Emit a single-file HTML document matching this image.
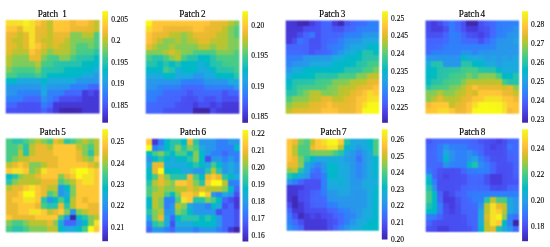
<!DOCTYPE html>
<html><head><meta charset="utf-8"><title>Patches</title>
<style>
html,body{margin:0;padding:0;background:#fff;}
body{width:550px;height:247px;overflow:hidden;}
svg{display:block;}
text{font-family:"Liberation Serif",serif;fill:#000;stroke:#000;stroke-width:0.2px;}
.t{font-size:9.5px;text-anchor:middle;stroke-width:0.15px;}
.l{font-size:7.5px;stroke-width:0.1px;}
</style></head><body>
<svg width="550" height="247" viewBox="0 0 550 247">
<defs><linearGradient id="pg" x1="0" y1="1" x2="0" y2="0">
<stop offset="0.0000" stop-color="#3e26a8"/><stop offset="0.0476" stop-color="#4332cb"/><stop offset="0.0952" stop-color="#4741e5"/><stop offset="0.1429" stop-color="#4852f4"/><stop offset="0.1905" stop-color="#4563fd"/><stop offset="0.2381" stop-color="#3875fe"/><stop offset="0.2857" stop-color="#2e87f7"/><stop offset="0.3333" stop-color="#2797eb"/><stop offset="0.3810" stop-color="#20a5e3"/><stop offset="0.4286" stop-color="#12b1d6"/><stop offset="0.4762" stop-color="#02bac3"/><stop offset="0.5238" stop-color="#24c1ae"/><stop offset="0.5714" stop-color="#37c897"/><stop offset="0.6190" stop-color="#57cc7a"/><stop offset="0.6667" stop-color="#81cc59"/><stop offset="0.7143" stop-color="#abc739"/><stop offset="0.7619" stop-color="#d1bf27"/><stop offset="0.8095" stop-color="#f0ba36"/><stop offset="0.8571" stop-color="#fec338"/><stop offset="0.9048" stop-color="#fad62d"/><stop offset="0.9524" stop-color="#f5e924"/><stop offset="1.0000" stop-color="#f9fb15"/></linearGradient>
<filter id="bl" x="-5%" y="-5%" width="110%" height="110%" color-interpolation-filters="sRGB"><feConvolveMatrix order="3" kernelMatrix="1 2 1 2 4 2 1 2 1" divisor="16" edgeMode="duplicate" preserveAlpha="false"/></filter>
<clipPath id="cp1"><rect x="5.70" y="20.10" width="93.90" height="93.40"/></clipPath>
<clipPath id="cp2"><rect x="145.70" y="20.40" width="93.70" height="93.30"/></clipPath>
<clipPath id="cp3"><rect x="285.70" y="20.50" width="93.40" height="93.30"/></clipPath>
<clipPath id="cp4"><rect x="425.50" y="20.50" width="93.60" height="93.20"/></clipPath>
<clipPath id="cp5"><rect x="5.80" y="138.40" width="93.60" height="93.80"/></clipPath>
<clipPath id="cp6"><rect x="146.10" y="138.80" width="93.80" height="93.90"/></clipPath>
<clipPath id="cp7"><rect x="286.60" y="138.80" width="92.20" height="91.90"/></clipPath>
<clipPath id="cp8"><rect x="425.70" y="138.60" width="93.30" height="93.40"/></clipPath>
</defs>
<g filter="url(#bl)"><g clip-path="url(#cp1)" shape-rendering="crispEdges">
<rect x="5" y="20" width="7" height="6" fill="#f6de29"/><rect x="12" y="20" width="5" height="6" fill="#f6df29"/><rect x="17" y="20" width="6" height="6" fill="#f5e227"/><rect x="23" y="20" width="6" height="6" fill="#f6f21e"/><rect x="29" y="20" width="6" height="6" fill="#f5e128"/><rect x="35" y="20" width="6" height="6" fill="#fec537"/><rect x="41" y="20" width="6" height="6" fill="#e9bb2f"/><rect x="47" y="20" width="6" height="6" fill="#c2c22c"/><rect x="53" y="20" width="6" height="6" fill="#fec736"/><rect x="59" y="20" width="5" height="6" fill="#fec735"/><rect x="64" y="20" width="6" height="6" fill="#fec537"/><rect x="70" y="20" width="6" height="6" fill="#f0ba36"/><rect x="76" y="20" width="6" height="6" fill="#fec13a"/><rect x="82" y="20" width="6" height="6" fill="#fec13a"/><rect x="88" y="20" width="6" height="6" fill="#e9bb2f"/><rect x="94" y="20" width="6" height="6" fill="#c2c22c"/>
<rect x="5" y="26" width="7" height="6" fill="#fec735"/><rect x="12" y="26" width="5" height="6" fill="#fec636"/><rect x="17" y="26" width="6" height="6" fill="#eaba31"/><rect x="23" y="26" width="6" height="6" fill="#f5e327"/><rect x="29" y="26" width="6" height="6" fill="#f5e128"/><rect x="35" y="26" width="6" height="6" fill="#ecba32"/><rect x="41" y="26" width="6" height="6" fill="#e7bb2e"/><rect x="47" y="26" width="6" height="6" fill="#c4c22b"/><rect x="53" y="26" width="6" height="6" fill="#fec537"/><rect x="59" y="26" width="5" height="6" fill="#fec537"/><rect x="64" y="26" width="6" height="6" fill="#fec338"/><rect x="70" y="26" width="6" height="6" fill="#eeba34"/><rect x="76" y="26" width="6" height="6" fill="#ecba32"/><rect x="82" y="26" width="6" height="6" fill="#eaba31"/><rect x="88" y="26" width="6" height="6" fill="#e4bb2c"/><rect x="94" y="26" width="6" height="6" fill="#c1c32c"/>
<rect x="5" y="32" width="7" height="6" fill="#ecba33"/><rect x="12" y="32" width="5" height="6" fill="#e8bb2f"/><rect x="17" y="32" width="6" height="6" fill="#c7c12a"/><rect x="23" y="32" width="6" height="6" fill="#e6bb2d"/><rect x="29" y="32" width="6" height="6" fill="#f5e128"/><rect x="35" y="32" width="6" height="6" fill="#e9bb30"/><rect x="41" y="32" width="6" height="6" fill="#e4bb2c"/><rect x="47" y="32" width="6" height="6" fill="#c4c22b"/><rect x="53" y="32" width="6" height="6" fill="#e9bb30"/><rect x="59" y="32" width="5" height="6" fill="#edba33"/><rect x="64" y="32" width="6" height="6" fill="#ebba32"/><rect x="70" y="32" width="6" height="6" fill="#83cc57"/><rect x="76" y="32" width="6" height="6" fill="#84cc56"/><rect x="82" y="32" width="6" height="6" fill="#b8c431"/><rect x="88" y="32" width="6" height="6" fill="#bbc42f"/><rect x="94" y="32" width="6" height="6" fill="#4bcb84"/>
<rect x="5" y="38" width="7" height="5" fill="#e8bb2f"/><rect x="12" y="38" width="5" height="5" fill="#c6c12a"/><rect x="17" y="38" width="6" height="5" fill="#c3c22b"/><rect x="23" y="38" width="6" height="5" fill="#e5bb2d"/><rect x="29" y="38" width="6" height="5" fill="#f6e028"/><rect x="35" y="38" width="6" height="5" fill="#eaba31"/><rect x="41" y="38" width="6" height="5" fill="#c5c22a"/><rect x="47" y="38" width="6" height="5" fill="#c3c22b"/><rect x="53" y="38" width="6" height="5" fill="#e5bb2d"/><rect x="59" y="38" width="5" height="5" fill="#e6bb2d"/><rect x="64" y="38" width="6" height="5" fill="#bcc42f"/><rect x="70" y="38" width="6" height="5" fill="#83cc57"/><rect x="76" y="38" width="6" height="5" fill="#7ecc5b"/><rect x="82" y="38" width="6" height="5" fill="#81cc59"/><rect x="88" y="38" width="6" height="5" fill="#7dcc5c"/><rect x="94" y="38" width="6" height="5" fill="#4dcc82"/>
<rect x="5" y="43" width="7" height="6" fill="#e8bb2e"/><rect x="12" y="43" width="5" height="6" fill="#e1bc2b"/><rect x="17" y="43" width="6" height="6" fill="#c1c32c"/><rect x="23" y="43" width="6" height="6" fill="#e3bc2c"/><rect x="29" y="43" width="6" height="6" fill="#f7dd2a"/><rect x="35" y="43" width="6" height="6" fill="#fec437"/><rect x="41" y="43" width="6" height="6" fill="#e3bb2c"/><rect x="47" y="43" width="6" height="6" fill="#bfc32d"/><rect x="53" y="43" width="6" height="6" fill="#e0bc2a"/><rect x="59" y="43" width="5" height="6" fill="#c1c32c"/><rect x="64" y="43" width="6" height="6" fill="#b8c431"/><rect x="70" y="43" width="6" height="6" fill="#82cc57"/><rect x="76" y="43" width="6" height="6" fill="#51cc7f"/><rect x="82" y="43" width="6" height="6" fill="#4fcc80"/><rect x="88" y="43" width="6" height="6" fill="#71cd64"/><rect x="94" y="43" width="6" height="6" fill="#4acb85"/>
<rect x="5" y="49" width="7" height="6" fill="#e5bb2c"/><rect x="12" y="49" width="5" height="6" fill="#bec32e"/><rect x="17" y="49" width="6" height="6" fill="#b9c431"/><rect x="23" y="49" width="6" height="6" fill="#bbc42f"/><rect x="29" y="49" width="6" height="6" fill="#fec339"/><rect x="35" y="49" width="6" height="6" fill="#ecba32"/><rect x="41" y="49" width="6" height="6" fill="#bec32e"/><rect x="47" y="49" width="6" height="6" fill="#87cb54"/><rect x="53" y="49" width="6" height="6" fill="#b9c430"/><rect x="59" y="49" width="5" height="6" fill="#b9c431"/><rect x="64" y="49" width="6" height="6" fill="#b2c534"/><rect x="70" y="49" width="6" height="6" fill="#7dcc5b"/><rect x="76" y="49" width="6" height="6" fill="#48cb86"/><rect x="82" y="49" width="6" height="6" fill="#45cb89"/><rect x="88" y="49" width="6" height="6" fill="#44cb8a"/><rect x="94" y="49" width="6" height="6" fill="#2bc3a7"/>
<rect x="5" y="55" width="7" height="6" fill="#b9c430"/><rect x="12" y="55" width="5" height="6" fill="#8acb51"/><rect x="17" y="55" width="6" height="6" fill="#86cb55"/><rect x="23" y="55" width="6" height="6" fill="#85cb55"/><rect x="29" y="55" width="6" height="6" fill="#e9bb30"/><rect x="35" y="55" width="6" height="6" fill="#e8bb2e"/><rect x="41" y="55" width="6" height="6" fill="#7ccc5c"/><rect x="47" y="55" width="6" height="6" fill="#4bcb83"/><rect x="53" y="55" width="6" height="6" fill="#48cb86"/><rect x="59" y="55" width="5" height="6" fill="#86cb55"/><rect x="64" y="55" width="6" height="6" fill="#83cc57"/><rect x="70" y="55" width="6" height="6" fill="#44cb8a"/><rect x="76" y="55" width="6" height="6" fill="#2cc4a7"/><rect x="82" y="55" width="6" height="6" fill="#2ac3a9"/><rect x="88" y="55" width="6" height="6" fill="#26c2ad"/><rect x="94" y="55" width="6" height="6" fill="#02bac4"/>
<rect x="5" y="61" width="7" height="6" fill="#b0c636"/><rect x="12" y="61" width="5" height="6" fill="#81cc59"/><rect x="17" y="61" width="6" height="6" fill="#7bcc5d"/><rect x="23" y="61" width="6" height="6" fill="#7bcc5d"/><rect x="29" y="61" width="6" height="6" fill="#7fcc5a"/><rect x="35" y="61" width="6" height="6" fill="#b6c532"/><rect x="41" y="61" width="6" height="6" fill="#48cb86"/><rect x="47" y="61" width="6" height="6" fill="#42ca8b"/><rect x="53" y="61" width="6" height="6" fill="#2cc4a6"/><rect x="59" y="61" width="5" height="6" fill="#29c3aa"/><rect x="64" y="61" width="6" height="6" fill="#27c2ac"/><rect x="70" y="61" width="6" height="6" fill="#27c2ac"/><rect x="76" y="61" width="6" height="6" fill="#25c2ae"/><rect x="82" y="61" width="6" height="6" fill="#02bac3"/><rect x="88" y="61" width="6" height="6" fill="#01b9c6"/><rect x="94" y="61" width="6" height="6" fill="#01b9c8"/>
<rect x="5" y="67" width="7" height="6" fill="#79cc5f"/><rect x="12" y="67" width="5" height="6" fill="#4dcc82"/><rect x="17" y="67" width="6" height="6" fill="#49cb85"/><rect x="23" y="67" width="6" height="6" fill="#48cb86"/><rect x="29" y="67" width="6" height="6" fill="#4bcb84"/><rect x="35" y="67" width="6" height="6" fill="#78cc5f"/><rect x="41" y="67" width="6" height="6" fill="#2cc4a7"/><rect x="47" y="67" width="6" height="6" fill="#29c3aa"/><rect x="53" y="67" width="6" height="6" fill="#26c2ac"/><rect x="59" y="67" width="5" height="6" fill="#24c1ae"/><rect x="64" y="67" width="6" height="6" fill="#02bac3"/><rect x="70" y="67" width="6" height="6" fill="#02bac5"/><rect x="76" y="67" width="6" height="6" fill="#01b9c6"/><rect x="82" y="67" width="6" height="6" fill="#01b8c8"/><rect x="88" y="67" width="6" height="6" fill="#02b7cb"/><rect x="94" y="67" width="6" height="6" fill="#19acdc"/>
<rect x="5" y="73" width="7" height="5" fill="#4bcb83"/><rect x="12" y="73" width="5" height="5" fill="#47cb87"/><rect x="17" y="73" width="6" height="5" fill="#2ec4a4"/><rect x="23" y="73" width="6" height="5" fill="#2dc4a6"/><rect x="29" y="73" width="6" height="5" fill="#2ec5a4"/><rect x="35" y="73" width="6" height="5" fill="#42ca8b"/><rect x="41" y="73" width="6" height="5" fill="#27c2ac"/><rect x="47" y="73" width="6" height="5" fill="#02bac5"/><rect x="53" y="73" width="6" height="5" fill="#01b9c7"/><rect x="59" y="73" width="5" height="5" fill="#01b8c8"/><rect x="64" y="73" width="6" height="5" fill="#01b8c9"/><rect x="70" y="73" width="6" height="5" fill="#01b8c9"/><rect x="76" y="73" width="6" height="5" fill="#01b8c9"/><rect x="82" y="73" width="6" height="5" fill="#1aabde"/><rect x="88" y="73" width="6" height="5" fill="#1da8e0"/><rect x="94" y="73" width="6" height="5" fill="#2699e9"/>
<rect x="5" y="78" width="7" height="6" fill="#01b9c7"/><rect x="12" y="78" width="5" height="6" fill="#01b8c8"/><rect x="17" y="78" width="6" height="6" fill="#1da9e0"/><rect x="23" y="78" width="6" height="6" fill="#1ea8e0"/><rect x="29" y="78" width="6" height="6" fill="#1ea8e0"/><rect x="35" y="78" width="6" height="6" fill="#1ca9df"/><rect x="41" y="78" width="6" height="6" fill="#03b7cb"/><rect x="47" y="78" width="6" height="6" fill="#1babde"/><rect x="53" y="78" width="6" height="6" fill="#1caadf"/><rect x="59" y="78" width="5" height="6" fill="#1caadf"/><rect x="64" y="78" width="6" height="6" fill="#1babde"/><rect x="70" y="78" width="6" height="6" fill="#1babde"/><rect x="76" y="78" width="6" height="6" fill="#2896ec"/><rect x="82" y="78" width="6" height="6" fill="#2797eb"/><rect x="88" y="78" width="6" height="6" fill="#2797ea"/><rect x="94" y="78" width="6" height="6" fill="#2797eb"/>
<rect x="5" y="84" width="7" height="6" fill="#2797eb"/><rect x="12" y="84" width="5" height="6" fill="#2797eb"/><rect x="17" y="84" width="6" height="6" fill="#2797eb"/><rect x="23" y="84" width="6" height="6" fill="#2797eb"/><rect x="29" y="84" width="6" height="6" fill="#2797eb"/><rect x="35" y="84" width="6" height="6" fill="#2699e9"/><rect x="41" y="84" width="6" height="6" fill="#1da9e0"/><rect x="47" y="84" width="6" height="6" fill="#2699e9"/><rect x="53" y="84" width="6" height="6" fill="#2797eb"/><rect x="59" y="84" width="5" height="6" fill="#2797eb"/><rect x="64" y="84" width="6" height="6" fill="#2797ea"/><rect x="70" y="84" width="6" height="6" fill="#307ffb"/><rect x="76" y="84" width="6" height="6" fill="#2f80fa"/><rect x="82" y="84" width="6" height="6" fill="#2f81fa"/><rect x="88" y="84" width="6" height="6" fill="#4367fd"/><rect x="94" y="84" width="6" height="6" fill="#4465fd"/>
<rect x="5" y="90" width="7" height="6" fill="#2995ec"/><rect x="12" y="90" width="5" height="6" fill="#2993ed"/><rect x="17" y="90" width="6" height="6" fill="#2e83f9"/><rect x="23" y="90" width="6" height="6" fill="#2f81fa"/><rect x="29" y="90" width="6" height="6" fill="#2f80fa"/><rect x="35" y="90" width="6" height="6" fill="#2f81fa"/><rect x="41" y="90" width="6" height="6" fill="#1ea7e1"/><rect x="47" y="90" width="6" height="6" fill="#2f82f9"/><rect x="53" y="90" width="6" height="6" fill="#2f82fa"/><rect x="59" y="90" width="5" height="6" fill="#2f81fa"/><rect x="64" y="90" width="6" height="6" fill="#4466fd"/><rect x="70" y="90" width="6" height="6" fill="#4466fd"/><rect x="76" y="90" width="6" height="6" fill="#4368fd"/><rect x="82" y="90" width="6" height="6" fill="#463adb"/><rect x="88" y="90" width="6" height="6" fill="#484aee"/><rect x="94" y="90" width="6" height="6" fill="#4639da"/>
<rect x="5" y="96" width="7" height="6" fill="#2f80fa"/><rect x="12" y="96" width="5" height="6" fill="#2f80fa"/><rect x="17" y="96" width="6" height="6" fill="#307ffb"/><rect x="23" y="96" width="6" height="6" fill="#4368fe"/><rect x="29" y="96" width="6" height="6" fill="#4367fd"/><rect x="35" y="96" width="6" height="6" fill="#4368fe"/><rect x="41" y="96" width="6" height="6" fill="#2b92ee"/><rect x="47" y="96" width="6" height="6" fill="#307ffb"/><rect x="53" y="96" width="6" height="6" fill="#416bfe"/><rect x="59" y="96" width="5" height="6" fill="#484ef1"/><rect x="64" y="96" width="6" height="6" fill="#484ef1"/><rect x="70" y="96" width="6" height="6" fill="#484ff2"/><rect x="76" y="96" width="6" height="6" fill="#484cef"/><rect x="82" y="96" width="6" height="6" fill="#4639d9"/><rect x="88" y="96" width="6" height="6" fill="#4538d8"/><rect x="94" y="96" width="6" height="6" fill="#4538d8"/>
<rect x="5" y="102" width="7" height="6" fill="#4367fd"/><rect x="12" y="102" width="5" height="6" fill="#4465fd"/><rect x="17" y="102" width="6" height="6" fill="#4851f3"/><rect x="23" y="102" width="6" height="6" fill="#4850f3"/><rect x="29" y="102" width="6" height="6" fill="#4851f3"/><rect x="35" y="102" width="6" height="6" fill="#4852f4"/><rect x="41" y="102" width="6" height="6" fill="#317dfc"/><rect x="47" y="102" width="6" height="6" fill="#4368fe"/><rect x="53" y="102" width="6" height="6" fill="#4539d9"/><rect x="59" y="102" width="5" height="6" fill="#4538d7"/><rect x="64" y="102" width="6" height="6" fill="#4538d7"/><rect x="70" y="102" width="6" height="6" fill="#4538d7"/><rect x="76" y="102" width="6" height="6" fill="#4538d7"/><rect x="82" y="102" width="6" height="6" fill="#4538d7"/><rect x="88" y="102" width="6" height="6" fill="#4538d7"/><rect x="94" y="102" width="6" height="6" fill="#4538d7"/>
<rect x="5" y="108" width="7" height="6" fill="#4852f4"/><rect x="12" y="108" width="5" height="6" fill="#4851f3"/><rect x="17" y="108" width="6" height="6" fill="#4850f2"/><rect x="23" y="108" width="6" height="6" fill="#484ff2"/><rect x="29" y="108" width="6" height="6" fill="#484ff2"/><rect x="35" y="108" width="6" height="6" fill="#4850f3"/><rect x="41" y="108" width="6" height="6" fill="#4564fd"/><rect x="47" y="108" width="6" height="6" fill="#4850f2"/><rect x="53" y="108" width="6" height="6" fill="#4538d7"/><rect x="59" y="108" width="5" height="6" fill="#402ab4"/><rect x="64" y="108" width="6" height="6" fill="#3f28af"/><rect x="70" y="108" width="6" height="6" fill="#3f28af"/><rect x="76" y="108" width="6" height="6" fill="#402ab4"/><rect x="82" y="108" width="6" height="6" fill="#4537d5"/><rect x="88" y="108" width="6" height="6" fill="#4538d7"/><rect x="94" y="108" width="6" height="6" fill="#4538d7"/>
</g></g>
<rect x="102.30" y="11.10" width="5.70" height="111.60" fill="url(#pg)"/>
<text class="t" transform="translate(52.30,16.60) scale(0.97,1)" word-spacing="2.0">Patch 1</text>
<text class="l" x="111.2" y="21.9">0.205</text>
<text class="l" x="111.2" y="43.4">0.2</text>
<text class="l" x="111.2" y="64.8">0.195</text>
<text class="l" x="111.2" y="86.3">0.19</text>
<text class="l" x="111.2" y="107.8">0.185</text>
<g filter="url(#bl)"><g clip-path="url(#cp2)" shape-rendering="crispEdges">
<rect x="145" y="20" width="7" height="6" fill="#f8f718"/><rect x="152" y="20" width="5" height="6" fill="#fec835"/><rect x="157" y="20" width="6" height="6" fill="#fec636"/><rect x="163" y="20" width="6" height="6" fill="#fec537"/><rect x="169" y="20" width="6" height="6" fill="#fec438"/><rect x="175" y="20" width="6" height="6" fill="#fec438"/><rect x="181" y="20" width="6" height="6" fill="#fec438"/><rect x="187" y="20" width="6" height="6" fill="#fec537"/><rect x="193" y="20" width="5" height="6" fill="#fec636"/><rect x="198" y="20" width="6" height="6" fill="#fec636"/><rect x="204" y="20" width="6" height="6" fill="#fec339"/><rect x="210" y="20" width="6" height="6" fill="#ecba32"/><rect x="216" y="20" width="6" height="6" fill="#e9bb30"/><rect x="222" y="20" width="6" height="6" fill="#e5bb2c"/><rect x="228" y="20" width="6" height="6" fill="#b7c532"/><rect x="234" y="20" width="6" height="6" fill="#81cc59"/>
<rect x="145" y="26" width="7" height="6" fill="#f7dd2a"/><rect x="152" y="26" width="5" height="6" fill="#fec636"/><rect x="157" y="26" width="6" height="6" fill="#fec338"/><rect x="163" y="26" width="6" height="6" fill="#efba35"/><rect x="169" y="26" width="6" height="6" fill="#ebba32"/><rect x="175" y="26" width="6" height="6" fill="#ebba32"/><rect x="181" y="26" width="6" height="6" fill="#ecba32"/><rect x="187" y="26" width="6" height="6" fill="#efba35"/><rect x="193" y="26" width="5" height="6" fill="#fec438"/><rect x="198" y="26" width="6" height="6" fill="#fec338"/><rect x="204" y="26" width="6" height="6" fill="#eeba34"/><rect x="210" y="26" width="6" height="6" fill="#eaba31"/><rect x="216" y="26" width="6" height="6" fill="#e6bb2d"/><rect x="222" y="26" width="6" height="6" fill="#bec32e"/><rect x="228" y="26" width="6" height="6" fill="#84cb56"/><rect x="234" y="26" width="6" height="6" fill="#52cc7e"/>
<rect x="145" y="32" width="7" height="6" fill="#fec636"/><rect x="152" y="32" width="5" height="6" fill="#efba36"/><rect x="157" y="32" width="6" height="6" fill="#ebba31"/><rect x="163" y="32" width="6" height="6" fill="#e8bb2f"/><rect x="169" y="32" width="6" height="6" fill="#c0c32d"/><rect x="175" y="32" width="6" height="6" fill="#bbc42f"/><rect x="181" y="32" width="6" height="6" fill="#8fcb4e"/><rect x="187" y="32" width="6" height="6" fill="#bec32e"/><rect x="193" y="32" width="5" height="6" fill="#e8bb2f"/><rect x="198" y="32" width="6" height="6" fill="#ecba32"/><rect x="204" y="32" width="6" height="6" fill="#eaba31"/><rect x="210" y="32" width="6" height="6" fill="#e6bb2d"/><rect x="216" y="32" width="6" height="6" fill="#c1c32c"/><rect x="222" y="32" width="6" height="6" fill="#b8c431"/><rect x="228" y="32" width="6" height="6" fill="#82cc57"/><rect x="234" y="32" width="6" height="6" fill="#54cc7c"/>
<rect x="145" y="38" width="7" height="6" fill="#fec239"/><rect x="152" y="38" width="5" height="6" fill="#e9bb30"/><rect x="157" y="38" width="6" height="6" fill="#bdc32e"/><rect x="163" y="38" width="6" height="6" fill="#88cb53"/><rect x="169" y="38" width="6" height="6" fill="#8ccb50"/><rect x="175" y="38" width="6" height="6" fill="#afc636"/><rect x="181" y="38" width="6" height="6" fill="#89cb52"/><rect x="187" y="38" width="6" height="6" fill="#b2c635"/><rect x="193" y="38" width="5" height="6" fill="#bec32e"/><rect x="198" y="38" width="6" height="6" fill="#e5bb2d"/><rect x="204" y="38" width="6" height="6" fill="#e5bb2d"/><rect x="210" y="38" width="6" height="6" fill="#bfc32d"/><rect x="216" y="38" width="6" height="6" fill="#bbc42f"/><rect x="222" y="38" width="6" height="6" fill="#b7c532"/><rect x="228" y="38" width="6" height="6" fill="#85cb56"/><rect x="234" y="38" width="6" height="6" fill="#7ecc5b"/>
<rect x="145" y="44" width="7" height="6" fill="#eabb30"/><rect x="152" y="44" width="5" height="6" fill="#b7c532"/><rect x="157" y="44" width="6" height="6" fill="#88cb53"/><rect x="163" y="44" width="6" height="6" fill="#88cb53"/><rect x="169" y="44" width="6" height="6" fill="#b3c534"/><rect x="175" y="44" width="6" height="6" fill="#89cb52"/><rect x="181" y="44" width="6" height="6" fill="#85cb56"/><rect x="187" y="44" width="6" height="6" fill="#83cc57"/><rect x="193" y="44" width="5" height="6" fill="#84cb56"/><rect x="198" y="44" width="6" height="6" fill="#bdc32e"/><rect x="204" y="44" width="6" height="6" fill="#bdc32e"/><rect x="210" y="44" width="6" height="6" fill="#89cb52"/><rect x="216" y="44" width="6" height="6" fill="#b5c533"/><rect x="222" y="44" width="6" height="6" fill="#b1c635"/><rect x="228" y="44" width="6" height="6" fill="#83cc57"/><rect x="234" y="44" width="6" height="6" fill="#7ecc5b"/>
<rect x="145" y="50" width="7" height="5" fill="#7fcc5a"/><rect x="152" y="50" width="5" height="5" fill="#82cc58"/><rect x="157" y="50" width="6" height="5" fill="#84cc56"/><rect x="163" y="50" width="6" height="5" fill="#b2c635"/><rect x="169" y="50" width="6" height="5" fill="#dbbd29"/><rect x="175" y="50" width="6" height="5" fill="#b4c533"/><rect x="181" y="50" width="6" height="5" fill="#82cc58"/><rect x="187" y="50" width="6" height="5" fill="#7ccc5c"/><rect x="193" y="50" width="5" height="5" fill="#4bcb83"/><rect x="198" y="50" width="6" height="5" fill="#48cb86"/><rect x="204" y="50" width="6" height="5" fill="#48cb86"/><rect x="210" y="50" width="6" height="5" fill="#4bcb84"/><rect x="216" y="50" width="6" height="5" fill="#7dcc5b"/><rect x="222" y="50" width="6" height="5" fill="#7fcc5a"/><rect x="228" y="50" width="6" height="5" fill="#79cc5e"/><rect x="234" y="50" width="6" height="5" fill="#50cc7f"/>
<rect x="145" y="55" width="7" height="6" fill="#44ca8a"/><rect x="152" y="55" width="5" height="6" fill="#29c3a9"/><rect x="157" y="55" width="6" height="6" fill="#29c3aa"/><rect x="163" y="55" width="6" height="6" fill="#46cb88"/><rect x="169" y="55" width="6" height="6" fill="#88cb53"/><rect x="175" y="55" width="6" height="6" fill="#b7c532"/><rect x="181" y="55" width="6" height="6" fill="#48cb86"/><rect x="187" y="55" width="6" height="6" fill="#27c2ab"/><rect x="193" y="55" width="5" height="6" fill="#26c2ac"/><rect x="198" y="55" width="6" height="6" fill="#01b9c7"/><rect x="204" y="55" width="6" height="6" fill="#01bac6"/><rect x="210" y="55" width="6" height="6" fill="#2bc3a8"/><rect x="216" y="55" width="6" height="6" fill="#46cb88"/><rect x="222" y="55" width="6" height="6" fill="#4bcb83"/><rect x="228" y="55" width="6" height="6" fill="#4bcb84"/><rect x="234" y="55" width="6" height="6" fill="#49cb85"/>
<rect x="145" y="61" width="7" height="6" fill="#27c2ab"/><rect x="152" y="61" width="5" height="6" fill="#25c2ae"/><rect x="157" y="61" width="6" height="6" fill="#05bbc1"/><rect x="163" y="61" width="6" height="6" fill="#27c2ab"/><rect x="169" y="61" width="6" height="6" fill="#05bbc1"/><rect x="175" y="61" width="6" height="6" fill="#23c1af"/><rect x="181" y="61" width="6" height="6" fill="#01b9c6"/><rect x="187" y="61" width="6" height="6" fill="#01bac5"/><rect x="193" y="61" width="5" height="6" fill="#01b9c7"/><rect x="198" y="61" width="6" height="6" fill="#17aeda"/><rect x="204" y="61" width="6" height="6" fill="#01b8c9"/><rect x="210" y="61" width="6" height="6" fill="#25c2ad"/><rect x="216" y="61" width="6" height="6" fill="#2cc4a7"/><rect x="222" y="61" width="6" height="6" fill="#41ca8c"/><rect x="228" y="61" width="6" height="6" fill="#45cb89"/><rect x="234" y="61" width="6" height="6" fill="#47cb87"/>
<rect x="145" y="67" width="7" height="6" fill="#01b9c7"/><rect x="152" y="67" width="5" height="6" fill="#01b8c8"/><rect x="157" y="67" width="6" height="6" fill="#01b9c8"/><rect x="163" y="67" width="6" height="6" fill="#3dc990"/><rect x="169" y="67" width="6" height="6" fill="#25c2ad"/><rect x="175" y="67" width="6" height="6" fill="#18addb"/><rect x="181" y="67" width="6" height="6" fill="#02b7cb"/><rect x="187" y="67" width="6" height="6" fill="#01b8c9"/><rect x="193" y="67" width="5" height="6" fill="#02b7ca"/><rect x="198" y="67" width="6" height="6" fill="#1babde"/><rect x="204" y="67" width="6" height="6" fill="#1aabdd"/><rect x="210" y="67" width="6" height="6" fill="#01b9c7"/><rect x="216" y="67" width="6" height="6" fill="#25c2ad"/><rect x="222" y="67" width="6" height="6" fill="#28c2ab"/><rect x="228" y="67" width="6" height="6" fill="#2cc4a7"/><rect x="234" y="67" width="6" height="6" fill="#42ca8c"/>
<rect x="145" y="73" width="7" height="6" fill="#1caadf"/><rect x="152" y="73" width="5" height="6" fill="#1caadf"/><rect x="157" y="73" width="6" height="6" fill="#1baade"/><rect x="163" y="73" width="6" height="6" fill="#01b8c8"/><rect x="169" y="73" width="6" height="6" fill="#01b8c9"/><rect x="175" y="73" width="6" height="6" fill="#1caadf"/><rect x="181" y="73" width="6" height="6" fill="#1babde"/><rect x="187" y="73" width="6" height="6" fill="#1aabdd"/><rect x="193" y="73" width="5" height="6" fill="#2896ec"/><rect x="198" y="73" width="6" height="6" fill="#2798ea"/><rect x="204" y="73" width="6" height="6" fill="#1da8e0"/><rect x="210" y="73" width="6" height="6" fill="#1caadf"/><rect x="216" y="73" width="6" height="6" fill="#01b9c6"/><rect x="222" y="73" width="6" height="6" fill="#02bac5"/><rect x="228" y="73" width="6" height="6" fill="#01bac5"/><rect x="234" y="73" width="6" height="6" fill="#28c3aa"/>
<rect x="145" y="79" width="7" height="6" fill="#2798ea"/><rect x="152" y="79" width="5" height="6" fill="#2798ea"/><rect x="157" y="79" width="6" height="6" fill="#2797eb"/><rect x="163" y="79" width="6" height="6" fill="#2995ec"/><rect x="169" y="79" width="6" height="6" fill="#2995ec"/><rect x="175" y="79" width="6" height="6" fill="#2895ec"/><rect x="181" y="79" width="6" height="6" fill="#307ffb"/><rect x="187" y="79" width="6" height="6" fill="#317efb"/><rect x="193" y="79" width="5" height="6" fill="#307ffb"/><rect x="198" y="79" width="6" height="6" fill="#2f82fa"/><rect x="204" y="79" width="6" height="6" fill="#2895ec"/><rect x="210" y="79" width="6" height="6" fill="#2896ec"/><rect x="216" y="79" width="6" height="6" fill="#2995ec"/><rect x="222" y="79" width="6" height="6" fill="#2995ec"/><rect x="228" y="79" width="6" height="6" fill="#1caadf"/><rect x="234" y="79" width="6" height="6" fill="#1ca9df"/>
<rect x="145" y="85" width="7" height="5" fill="#2995ec"/><rect x="152" y="85" width="5" height="5" fill="#2993ed"/><rect x="157" y="85" width="6" height="5" fill="#2e83f9"/><rect x="163" y="85" width="6" height="5" fill="#2f81fa"/><rect x="169" y="85" width="6" height="5" fill="#2f80fa"/><rect x="175" y="85" width="6" height="5" fill="#317efb"/><rect x="181" y="85" width="6" height="5" fill="#4269fe"/><rect x="187" y="85" width="6" height="5" fill="#4368fe"/><rect x="193" y="85" width="5" height="5" fill="#4368fe"/><rect x="198" y="85" width="6" height="5" fill="#426afe"/><rect x="204" y="85" width="6" height="5" fill="#317efb"/><rect x="210" y="85" width="6" height="5" fill="#2f80fa"/><rect x="216" y="85" width="6" height="5" fill="#2f81fa"/><rect x="222" y="85" width="6" height="5" fill="#2f81fa"/><rect x="228" y="85" width="6" height="5" fill="#2f80fa"/><rect x="234" y="85" width="6" height="5" fill="#2798ea"/>
<rect x="145" y="90" width="7" height="6" fill="#2f82f9"/><rect x="152" y="90" width="5" height="6" fill="#2f81fa"/><rect x="157" y="90" width="6" height="6" fill="#317efb"/><rect x="163" y="90" width="6" height="6" fill="#426afe"/><rect x="169" y="90" width="6" height="6" fill="#4269fe"/><rect x="175" y="90" width="6" height="6" fill="#4368fd"/><rect x="181" y="90" width="6" height="6" fill="#4465fd"/><rect x="187" y="90" width="6" height="6" fill="#4854f5"/><rect x="193" y="90" width="5" height="6" fill="#4464fd"/><rect x="198" y="90" width="6" height="6" fill="#4466fd"/><rect x="204" y="90" width="6" height="6" fill="#4367fd"/><rect x="210" y="90" width="6" height="6" fill="#4367fd"/><rect x="216" y="90" width="6" height="6" fill="#4367fd"/><rect x="222" y="90" width="6" height="6" fill="#4853f5"/><rect x="228" y="90" width="6" height="6" fill="#4464fd"/><rect x="234" y="90" width="6" height="6" fill="#4465fd"/>
<rect x="145" y="96" width="7" height="6" fill="#317efb"/><rect x="152" y="96" width="5" height="6" fill="#317dfc"/><rect x="157" y="96" width="6" height="6" fill="#4269fe"/><rect x="163" y="96" width="6" height="6" fill="#4367fd"/><rect x="169" y="96" width="6" height="6" fill="#4466fd"/><rect x="175" y="96" width="6" height="6" fill="#4464fd"/><rect x="181" y="96" width="6" height="6" fill="#4851f4"/><rect x="187" y="96" width="6" height="6" fill="#484ff2"/><rect x="193" y="96" width="5" height="6" fill="#4851f3"/><rect x="198" y="96" width="6" height="6" fill="#4562fc"/><rect x="204" y="96" width="6" height="6" fill="#4852f4"/><rect x="210" y="96" width="6" height="6" fill="#4852f4"/><rect x="216" y="96" width="6" height="6" fill="#4561fc"/><rect x="222" y="96" width="6" height="6" fill="#4850f2"/><rect x="228" y="96" width="6" height="6" fill="#484ef1"/><rect x="234" y="96" width="6" height="6" fill="#484ff2"/>
<rect x="145" y="102" width="7" height="6" fill="#4269fe"/><rect x="152" y="102" width="5" height="6" fill="#4368fe"/><rect x="157" y="102" width="6" height="6" fill="#4367fd"/><rect x="163" y="102" width="6" height="6" fill="#4465fd"/><rect x="169" y="102" width="6" height="6" fill="#4563fd"/><rect x="175" y="102" width="6" height="6" fill="#4851f4"/><rect x="181" y="102" width="6" height="6" fill="#484ff2"/><rect x="187" y="102" width="6" height="6" fill="#484ef1"/><rect x="193" y="102" width="5" height="6" fill="#463cdf"/><rect x="198" y="102" width="6" height="6" fill="#484ff2"/><rect x="204" y="102" width="6" height="6" fill="#484ef1"/><rect x="210" y="102" width="6" height="6" fill="#463ee1"/><rect x="216" y="102" width="6" height="6" fill="#484cef"/><rect x="222" y="102" width="6" height="6" fill="#463adb"/><rect x="228" y="102" width="6" height="6" fill="#463ada"/><rect x="234" y="102" width="6" height="6" fill="#463ada"/>
<rect x="145" y="108" width="7" height="6" fill="#4367fd"/><rect x="152" y="108" width="5" height="6" fill="#4367fd"/><rect x="157" y="108" width="6" height="6" fill="#4466fd"/><rect x="163" y="108" width="6" height="6" fill="#4854f6"/><rect x="169" y="108" width="6" height="6" fill="#4851f3"/><rect x="175" y="108" width="6" height="6" fill="#4850f2"/><rect x="181" y="108" width="6" height="6" fill="#484ff2"/><rect x="187" y="108" width="6" height="6" fill="#484ef1"/><rect x="193" y="108" width="5" height="6" fill="#3f28ad"/><rect x="198" y="108" width="6" height="6" fill="#3e27ab"/><rect x="204" y="108" width="6" height="6" fill="#3e27ab"/><rect x="210" y="108" width="6" height="6" fill="#484bef"/><rect x="216" y="108" width="6" height="6" fill="#463adb"/><rect x="222" y="108" width="6" height="6" fill="#4538d8"/><rect x="228" y="108" width="6" height="6" fill="#4538d7"/><rect x="234" y="108" width="6" height="6" fill="#4538d7"/>
</g></g>
<rect x="242.30" y="11.20" width="5.70" height="111.60" fill="url(#pg)"/>
<text class="t" transform="translate(192.40,16.60) scale(0.97,1)" word-spacing="-1.0">Patch 2</text>
<text class="l" x="251.2" y="27.8">0.20</text>
<text class="l" x="251.2" y="58.3">0.195</text>
<text class="l" x="251.2" y="88.8">0.19</text>
<text class="l" x="251.2" y="119.3">0.185</text>
<g filter="url(#bl)"><g clip-path="url(#cp3)" shape-rendering="crispEdges">
<rect x="285" y="20" width="7" height="6" fill="#4538d7"/><rect x="292" y="20" width="5" height="6" fill="#4536d4"/><rect x="297" y="20" width="6" height="6" fill="#402bb6"/><rect x="303" y="20" width="6" height="6" fill="#3f29b2"/><rect x="309" y="20" width="6" height="6" fill="#463de0"/><rect x="315" y="20" width="6" height="6" fill="#4850f3"/><rect x="321" y="20" width="6" height="6" fill="#4564fd"/><rect x="327" y="20" width="5" height="6" fill="#4465fd"/><rect x="332" y="20" width="6" height="6" fill="#463adb"/><rect x="338" y="20" width="6" height="6" fill="#402ab3"/><rect x="344" y="20" width="6" height="6" fill="#4756f6"/><rect x="350" y="20" width="6" height="6" fill="#4466fd"/><rect x="356" y="20" width="6" height="6" fill="#426afe"/><rect x="362" y="20" width="5" height="6" fill="#3f6eff"/><rect x="367" y="20" width="6" height="6" fill="#307ffb"/><rect x="373" y="20" width="7" height="6" fill="#2f80fa"/>
<rect x="285" y="26" width="7" height="6" fill="#4538d7"/><rect x="292" y="26" width="5" height="6" fill="#4538d7"/><rect x="297" y="26" width="6" height="6" fill="#4538d8"/><rect x="303" y="26" width="6" height="6" fill="#484df1"/><rect x="309" y="26" width="6" height="6" fill="#484ef1"/><rect x="315" y="26" width="6" height="6" fill="#4851f4"/><rect x="321" y="26" width="6" height="6" fill="#4564fd"/><rect x="327" y="26" width="5" height="6" fill="#4465fd"/><rect x="332" y="26" width="6" height="6" fill="#4854f6"/><rect x="338" y="26" width="6" height="6" fill="#4853f5"/><rect x="344" y="26" width="6" height="6" fill="#4466fd"/><rect x="350" y="26" width="6" height="6" fill="#416bfe"/><rect x="356" y="26" width="6" height="6" fill="#327cfc"/><rect x="362" y="26" width="5" height="6" fill="#2f80fa"/><rect x="367" y="26" width="6" height="6" fill="#2f82f9"/><rect x="373" y="26" width="7" height="6" fill="#2e83f9"/>
<rect x="285" y="32" width="7" height="6" fill="#4539d9"/><rect x="292" y="32" width="5" height="6" fill="#463adb"/><rect x="297" y="32" width="6" height="6" fill="#484df0"/><rect x="303" y="32" width="6" height="6" fill="#4563fd"/><rect x="309" y="32" width="6" height="6" fill="#3578fd"/><rect x="315" y="32" width="6" height="6" fill="#4852f4"/><rect x="321" y="32" width="6" height="6" fill="#4564fd"/><rect x="327" y="32" width="5" height="6" fill="#4466fd"/><rect x="332" y="32" width="6" height="6" fill="#4465fd"/><rect x="338" y="32" width="6" height="6" fill="#4368fd"/><rect x="344" y="32" width="6" height="6" fill="#317efb"/><rect x="350" y="32" width="6" height="6" fill="#2f81fa"/><rect x="356" y="32" width="6" height="6" fill="#2e83f9"/><rect x="362" y="32" width="5" height="6" fill="#2994ed"/><rect x="367" y="32" width="6" height="6" fill="#2797eb"/><rect x="373" y="32" width="7" height="6" fill="#2797eb"/>
<rect x="285" y="38" width="7" height="6" fill="#463adb"/><rect x="292" y="38" width="5" height="6" fill="#484ef1"/><rect x="297" y="38" width="6" height="6" fill="#3974fe"/><rect x="303" y="38" width="6" height="6" fill="#4466fd"/><rect x="309" y="38" width="6" height="6" fill="#4852f4"/><rect x="315" y="38" width="6" height="6" fill="#4852f4"/><rect x="321" y="38" width="6" height="6" fill="#4464fd"/><rect x="327" y="38" width="5" height="6" fill="#4269fe"/><rect x="332" y="38" width="6" height="6" fill="#416cfe"/><rect x="338" y="38" width="6" height="6" fill="#307ffb"/><rect x="344" y="38" width="6" height="6" fill="#2a92ee"/><rect x="350" y="38" width="6" height="6" fill="#2896ec"/><rect x="356" y="38" width="6" height="6" fill="#2699e9"/><rect x="362" y="38" width="5" height="6" fill="#1ea8e1"/><rect x="367" y="38" width="6" height="6" fill="#1ca9df"/><rect x="373" y="38" width="7" height="6" fill="#1caadf"/>
<rect x="285" y="44" width="7" height="6" fill="#4465fd"/><rect x="292" y="44" width="5" height="6" fill="#4466fd"/><rect x="297" y="44" width="6" height="6" fill="#4367fd"/><rect x="303" y="44" width="6" height="6" fill="#4464fd"/><rect x="309" y="44" width="6" height="6" fill="#4853f5"/><rect x="315" y="44" width="6" height="6" fill="#4853f5"/><rect x="321" y="44" width="6" height="6" fill="#4466fd"/><rect x="327" y="44" width="5" height="6" fill="#3677fe"/><rect x="332" y="44" width="6" height="6" fill="#317efb"/><rect x="338" y="44" width="6" height="6" fill="#2e83f9"/><rect x="344" y="44" width="6" height="6" fill="#2798ea"/><rect x="350" y="44" width="6" height="6" fill="#1ea7e1"/><rect x="356" y="44" width="6" height="6" fill="#1ca9df"/><rect x="362" y="44" width="5" height="6" fill="#1aabdd"/><rect x="367" y="44" width="6" height="6" fill="#01b7ca"/><rect x="373" y="44" width="7" height="6" fill="#01b8c9"/>
<rect x="285" y="50" width="7" height="5" fill="#426afe"/><rect x="292" y="50" width="5" height="5" fill="#426afe"/><rect x="297" y="50" width="6" height="5" fill="#4269fe"/><rect x="303" y="50" width="6" height="5" fill="#4465fd"/><rect x="309" y="50" width="6" height="5" fill="#4854f5"/><rect x="315" y="50" width="6" height="5" fill="#4562fc"/><rect x="321" y="50" width="6" height="5" fill="#4367fd"/><rect x="327" y="50" width="5" height="5" fill="#406dfe"/><rect x="332" y="50" width="6" height="5" fill="#2f82fa"/><rect x="338" y="50" width="6" height="5" fill="#2797eb"/><rect x="344" y="50" width="6" height="5" fill="#1ca9df"/><rect x="350" y="50" width="6" height="5" fill="#19addc"/><rect x="356" y="50" width="6" height="5" fill="#01b7ca"/><rect x="362" y="50" width="5" height="5" fill="#23c1af"/><rect x="367" y="50" width="6" height="5" fill="#23c1af"/><rect x="373" y="50" width="7" height="5" fill="#05bbc1"/>
<rect x="285" y="55" width="7" height="6" fill="#317efb"/><rect x="292" y="55" width="5" height="6" fill="#307ffb"/><rect x="297" y="55" width="6" height="6" fill="#2f82f9"/><rect x="303" y="55" width="6" height="6" fill="#2896ec"/><rect x="309" y="55" width="6" height="6" fill="#2699e9"/><rect x="315" y="55" width="6" height="6" fill="#269ae9"/><rect x="321" y="55" width="6" height="6" fill="#269ae9"/><rect x="327" y="55" width="5" height="6" fill="#269ae8"/><rect x="332" y="55" width="6" height="6" fill="#1caadf"/><rect x="338" y="55" width="6" height="6" fill="#19addc"/><rect x="344" y="55" width="6" height="6" fill="#03b7cc"/><rect x="350" y="55" width="6" height="6" fill="#01b8c9"/><rect x="356" y="55" width="6" height="6" fill="#03bbc3"/><rect x="362" y="55" width="5" height="6" fill="#27c2ac"/><rect x="367" y="55" width="6" height="6" fill="#2ac3a8"/><rect x="373" y="55" width="7" height="6" fill="#2ac3a8"/>
<rect x="285" y="61" width="7" height="6" fill="#2e85f8"/><rect x="292" y="61" width="5" height="6" fill="#2994ed"/><rect x="297" y="61" width="6" height="6" fill="#2797eb"/><rect x="303" y="61" width="6" height="6" fill="#2798ea"/><rect x="309" y="61" width="6" height="6" fill="#1da9e0"/><rect x="315" y="61" width="6" height="6" fill="#1caadf"/><rect x="321" y="61" width="6" height="6" fill="#1caadf"/><rect x="327" y="61" width="5" height="6" fill="#1aacdd"/><rect x="332" y="61" width="6" height="6" fill="#03b7cc"/><rect x="338" y="61" width="6" height="6" fill="#01b8c9"/><rect x="344" y="61" width="6" height="6" fill="#01b9c6"/><rect x="350" y="61" width="6" height="6" fill="#04bbc2"/><rect x="356" y="61" width="6" height="6" fill="#25c2ae"/><rect x="362" y="61" width="5" height="6" fill="#2cc4a6"/><rect x="367" y="61" width="6" height="6" fill="#40ca8d"/><rect x="373" y="61" width="7" height="6" fill="#45cb88"/>
<rect x="285" y="67" width="7" height="6" fill="#2699e9"/><rect x="292" y="67" width="5" height="6" fill="#1da9e0"/><rect x="297" y="67" width="6" height="6" fill="#1aabdd"/><rect x="303" y="67" width="6" height="6" fill="#01b7ca"/><rect x="309" y="67" width="6" height="6" fill="#01b8c9"/><rect x="315" y="67" width="6" height="6" fill="#01b8c8"/><rect x="321" y="67" width="6" height="6" fill="#01b9c7"/><rect x="327" y="67" width="5" height="6" fill="#01b9c6"/><rect x="332" y="67" width="6" height="6" fill="#01bac6"/><rect x="338" y="67" width="6" height="6" fill="#02bac4"/><rect x="344" y="67" width="6" height="6" fill="#26c2ac"/><rect x="350" y="67" width="6" height="6" fill="#29c3aa"/><rect x="356" y="67" width="6" height="6" fill="#2bc3a8"/><rect x="362" y="67" width="5" height="6" fill="#45cb89"/><rect x="367" y="67" width="6" height="6" fill="#4ccb83"/><rect x="373" y="67" width="7" height="6" fill="#79cc5e"/>
<rect x="285" y="73" width="7" height="6" fill="#1aacdd"/><rect x="292" y="73" width="5" height="6" fill="#01b8c9"/><rect x="297" y="73" width="6" height="6" fill="#01b9c6"/><rect x="303" y="73" width="6" height="6" fill="#02bac5"/><rect x="309" y="73" width="6" height="6" fill="#03bbc3"/><rect x="315" y="73" width="6" height="6" fill="#25c2ae"/><rect x="321" y="73" width="6" height="6" fill="#29c3aa"/><rect x="327" y="73" width="5" height="6" fill="#27c2ab"/><rect x="332" y="73" width="6" height="6" fill="#27c2ab"/><rect x="338" y="73" width="6" height="6" fill="#4acb85"/><rect x="344" y="73" width="6" height="6" fill="#48cb86"/><rect x="350" y="73" width="6" height="6" fill="#46cb88"/><rect x="356" y="73" width="6" height="6" fill="#83cc57"/><rect x="362" y="73" width="5" height="6" fill="#86cb55"/><rect x="367" y="73" width="6" height="6" fill="#bbc430"/><rect x="373" y="73" width="7" height="6" fill="#bec32e"/>
<rect x="285" y="79" width="7" height="6" fill="#01b9c6"/><rect x="292" y="79" width="5" height="6" fill="#22c1b0"/><rect x="297" y="79" width="6" height="6" fill="#27c2ab"/><rect x="303" y="79" width="6" height="6" fill="#29c3aa"/><rect x="309" y="79" width="6" height="6" fill="#2cc4a6"/><rect x="315" y="79" width="6" height="6" fill="#40ca8d"/><rect x="321" y="79" width="6" height="6" fill="#44ca8a"/><rect x="327" y="79" width="5" height="6" fill="#49cb85"/><rect x="332" y="79" width="6" height="6" fill="#7bcc5c"/><rect x="338" y="79" width="6" height="6" fill="#80cc59"/><rect x="344" y="79" width="6" height="6" fill="#85cb55"/><rect x="350" y="79" width="6" height="6" fill="#b7c532"/><rect x="356" y="79" width="6" height="6" fill="#bbc42f"/><rect x="362" y="79" width="5" height="6" fill="#c1c32c"/><rect x="367" y="79" width="6" height="6" fill="#e5bb2c"/><rect x="373" y="79" width="7" height="6" fill="#e8bb2f"/>
<rect x="285" y="85" width="7" height="5" fill="#08bcbf"/><rect x="292" y="85" width="5" height="5" fill="#29c3aa"/><rect x="297" y="85" width="6" height="5" fill="#3eca8f"/><rect x="303" y="85" width="6" height="5" fill="#44cb89"/><rect x="309" y="85" width="6" height="5" fill="#45cb89"/><rect x="315" y="85" width="6" height="5" fill="#48cb86"/><rect x="321" y="85" width="6" height="5" fill="#50cc7f"/><rect x="327" y="85" width="5" height="5" fill="#77cc5f"/><rect x="332" y="85" width="6" height="5" fill="#84cc56"/><rect x="338" y="85" width="6" height="5" fill="#aec637"/><rect x="344" y="85" width="6" height="5" fill="#b8c431"/><rect x="350" y="85" width="6" height="5" fill="#c2c32c"/><rect x="356" y="85" width="6" height="5" fill="#e3bb2c"/><rect x="362" y="85" width="5" height="5" fill="#e9bb2f"/><rect x="367" y="85" width="6" height="5" fill="#eeba35"/><rect x="373" y="85" width="7" height="5" fill="#fec239"/>
<rect x="285" y="90" width="7" height="6" fill="#29c3aa"/><rect x="292" y="90" width="5" height="6" fill="#2dc4a6"/><rect x="297" y="90" width="6" height="6" fill="#4ecc81"/><rect x="303" y="90" width="6" height="6" fill="#79cc5e"/><rect x="309" y="90" width="6" height="6" fill="#b4c534"/><rect x="315" y="90" width="6" height="6" fill="#b9c431"/><rect x="321" y="90" width="6" height="6" fill="#81cc58"/><rect x="327" y="90" width="5" height="6" fill="#81cc58"/><rect x="332" y="90" width="6" height="6" fill="#8ecb4f"/><rect x="338" y="90" width="6" height="6" fill="#b8c431"/><rect x="344" y="90" width="6" height="6" fill="#c3c22b"/><rect x="350" y="90" width="6" height="6" fill="#e5bb2d"/><rect x="356" y="90" width="6" height="6" fill="#efba35"/><rect x="362" y="90" width="5" height="6" fill="#fec438"/><rect x="367" y="90" width="6" height="6" fill="#f8da2b"/><rect x="373" y="90" width="7" height="6" fill="#fdcc32"/>
<rect x="285" y="96" width="7" height="6" fill="#4acb84"/><rect x="292" y="96" width="5" height="6" fill="#80cc59"/><rect x="297" y="96" width="6" height="6" fill="#85cb55"/><rect x="303" y="96" width="6" height="6" fill="#8ccb50"/><rect x="309" y="96" width="6" height="6" fill="#bbc42f"/><rect x="315" y="96" width="6" height="6" fill="#c4c22b"/><rect x="321" y="96" width="6" height="6" fill="#e7bb2e"/><rect x="327" y="96" width="5" height="6" fill="#e9bb30"/><rect x="332" y="96" width="6" height="6" fill="#bfc32d"/><rect x="338" y="96" width="6" height="6" fill="#c4c22b"/><rect x="344" y="96" width="6" height="6" fill="#e4bb2c"/><rect x="350" y="96" width="6" height="6" fill="#ecba32"/><rect x="356" y="96" width="6" height="6" fill="#fec339"/><rect x="362" y="96" width="5" height="6" fill="#feca33"/><rect x="367" y="96" width="6" height="6" fill="#f6e028"/><rect x="373" y="96" width="7" height="6" fill="#f5e327"/>
<rect x="285" y="102" width="7" height="6" fill="#88cb53"/><rect x="292" y="102" width="5" height="6" fill="#b7c532"/><rect x="297" y="102" width="6" height="6" fill="#bbc42f"/><rect x="303" y="102" width="6" height="6" fill="#c1c32c"/><rect x="309" y="102" width="6" height="6" fill="#e3bb2c"/><rect x="315" y="102" width="6" height="6" fill="#e8bb2f"/><rect x="321" y="102" width="6" height="6" fill="#efba35"/><rect x="327" y="102" width="5" height="6" fill="#fec13a"/><rect x="332" y="102" width="6" height="6" fill="#edba33"/><rect x="338" y="102" width="6" height="6" fill="#e8bb2f"/><rect x="344" y="102" width="6" height="6" fill="#e9bb30"/><rect x="350" y="102" width="6" height="6" fill="#efba35"/><rect x="356" y="102" width="6" height="6" fill="#fec537"/><rect x="362" y="102" width="5" height="6" fill="#f6e028"/><rect x="367" y="102" width="6" height="6" fill="#f8f719"/><rect x="373" y="102" width="7" height="6" fill="#f8f818"/>
<rect x="285" y="108" width="7" height="6" fill="#bbc42f"/><rect x="292" y="108" width="5" height="6" fill="#dfbc2a"/><rect x="297" y="108" width="6" height="6" fill="#e3bc2c"/><rect x="303" y="108" width="6" height="6" fill="#e5bb2d"/><rect x="309" y="108" width="6" height="6" fill="#e9bb2f"/><rect x="315" y="108" width="6" height="6" fill="#edba33"/><rect x="321" y="108" width="6" height="6" fill="#fec13a"/><rect x="327" y="108" width="5" height="6" fill="#fec537"/><rect x="332" y="108" width="6" height="6" fill="#fec13a"/><rect x="338" y="108" width="6" height="6" fill="#edba33"/><rect x="344" y="108" width="6" height="6" fill="#eaba31"/><rect x="350" y="108" width="6" height="6" fill="#efba35"/><rect x="356" y="108" width="6" height="6" fill="#fec537"/><rect x="362" y="108" width="5" height="6" fill="#f8f818"/><rect x="367" y="108" width="6" height="6" fill="#f9fa16"/><rect x="373" y="108" width="7" height="6" fill="#f9fb15"/>
</g></g>
<rect x="382.10" y="11.20" width="5.80" height="111.60" fill="url(#pg)"/>
<text class="t" transform="translate(332.20,16.60) scale(0.97,1)" word-spacing="-1.0">Patch 3</text>
<text class="l" x="391.0" y="20.6">0.25</text>
<text class="l" x="391.0" y="38.4">0.245</text>
<text class="l" x="391.0" y="56.2">0.24</text>
<text class="l" x="391.0" y="74.0">0.235</text>
<text class="l" x="391.0" y="91.9">0.23</text>
<text class="l" x="391.0" y="109.7">0.225</text>
<g filter="url(#bl)"><g clip-path="url(#cp4)" shape-rendering="crispEdges">
<rect x="425" y="20" width="6" height="6" fill="#484bee"/><rect x="431" y="20" width="6" height="6" fill="#463cdf"/><rect x="437" y="20" width="6" height="6" fill="#484bef"/><rect x="443" y="20" width="6" height="6" fill="#4465fd"/><rect x="449" y="20" width="6" height="6" fill="#347afd"/><rect x="455" y="20" width="6" height="6" fill="#4367fd"/><rect x="461" y="20" width="5" height="6" fill="#4851f3"/><rect x="466" y="20" width="6" height="6" fill="#3f29b2"/><rect x="472" y="20" width="6" height="6" fill="#3f29b2"/><rect x="478" y="20" width="6" height="6" fill="#4850f2"/><rect x="484" y="20" width="6" height="6" fill="#4561fc"/><rect x="490" y="20" width="6" height="6" fill="#4269fe"/><rect x="496" y="20" width="6" height="6" fill="#317dfc"/><rect x="502" y="20" width="5" height="6" fill="#2f80fa"/><rect x="507" y="20" width="6" height="6" fill="#2f81fa"/><rect x="513" y="20" width="7" height="6" fill="#2e83f9"/>
<rect x="425" y="26" width="6" height="6" fill="#484cf0"/><rect x="431" y="26" width="6" height="6" fill="#473ee2"/><rect x="437" y="26" width="6" height="6" fill="#473ee1"/><rect x="443" y="26" width="6" height="6" fill="#4852f4"/><rect x="449" y="26" width="6" height="6" fill="#327bfc"/><rect x="455" y="26" width="6" height="6" fill="#426afe"/><rect x="461" y="26" width="5" height="6" fill="#4852f4"/><rect x="466" y="26" width="6" height="6" fill="#463bdc"/><rect x="472" y="26" width="6" height="6" fill="#463adb"/><rect x="478" y="26" width="6" height="6" fill="#484df0"/><rect x="484" y="26" width="6" height="6" fill="#4853f5"/><rect x="490" y="26" width="6" height="6" fill="#4368fd"/><rect x="496" y="26" width="6" height="6" fill="#317dfc"/><rect x="502" y="26" width="5" height="6" fill="#2f81fa"/><rect x="507" y="26" width="6" height="6" fill="#2e84f9"/><rect x="513" y="26" width="7" height="6" fill="#2b92ee"/>
<rect x="425" y="32" width="6" height="6" fill="#4851f3"/><rect x="431" y="32" width="6" height="6" fill="#4850f2"/><rect x="437" y="32" width="6" height="6" fill="#4852f4"/><rect x="443" y="32" width="6" height="6" fill="#4367fd"/><rect x="449" y="32" width="6" height="6" fill="#317dfc"/><rect x="455" y="32" width="6" height="6" fill="#327cfc"/><rect x="461" y="32" width="5" height="6" fill="#4466fd"/><rect x="466" y="32" width="6" height="6" fill="#4852f4"/><rect x="472" y="32" width="6" height="6" fill="#484df1"/><rect x="478" y="32" width="6" height="6" fill="#4741e5"/><rect x="484" y="32" width="6" height="6" fill="#4852f4"/><rect x="490" y="32" width="6" height="6" fill="#4369fe"/><rect x="496" y="32" width="6" height="6" fill="#2f80fa"/><rect x="502" y="32" width="5" height="6" fill="#2e85f8"/><rect x="507" y="32" width="6" height="6" fill="#2994ed"/><rect x="513" y="32" width="7" height="6" fill="#2797eb"/>
<rect x="425" y="38" width="6" height="6" fill="#4564fd"/><rect x="431" y="38" width="6" height="6" fill="#4564fd"/><rect x="437" y="38" width="6" height="6" fill="#4465fd"/><rect x="443" y="38" width="6" height="6" fill="#416bfe"/><rect x="449" y="38" width="6" height="6" fill="#317efb"/><rect x="455" y="38" width="6" height="6" fill="#317efb"/><rect x="461" y="38" width="5" height="6" fill="#406cfe"/><rect x="466" y="38" width="6" height="6" fill="#4368fd"/><rect x="472" y="38" width="6" height="6" fill="#4466fd"/><rect x="478" y="38" width="6" height="6" fill="#4852f4"/><rect x="484" y="38" width="6" height="6" fill="#4269fe"/><rect x="490" y="38" width="6" height="6" fill="#307ffb"/><rect x="496" y="38" width="6" height="6" fill="#2b92ee"/><rect x="502" y="38" width="5" height="6" fill="#2995ec"/><rect x="507" y="38" width="6" height="6" fill="#2797eb"/><rect x="513" y="38" width="7" height="6" fill="#23a1e4"/>
<rect x="425" y="44" width="6" height="6" fill="#4368fe"/><rect x="431" y="44" width="6" height="6" fill="#4269fe"/><rect x="437" y="44" width="6" height="6" fill="#416cfe"/><rect x="443" y="44" width="6" height="6" fill="#317dfc"/><rect x="449" y="44" width="6" height="6" fill="#3080fb"/><rect x="455" y="44" width="6" height="6" fill="#2f80fa"/><rect x="461" y="44" width="5" height="6" fill="#2f80fa"/><rect x="466" y="44" width="6" height="6" fill="#307ffb"/><rect x="472" y="44" width="6" height="6" fill="#3080fb"/><rect x="478" y="44" width="6" height="6" fill="#2f81fa"/><rect x="484" y="44" width="6" height="6" fill="#2f82f9"/><rect x="490" y="44" width="6" height="6" fill="#2e85f8"/><rect x="496" y="44" width="6" height="6" fill="#2995ec"/><rect x="502" y="44" width="5" height="6" fill="#2797eb"/><rect x="507" y="44" width="6" height="6" fill="#2797eb"/><rect x="513" y="44" width="7" height="6" fill="#2798ea"/>
<rect x="425" y="50" width="6" height="5" fill="#426afe"/><rect x="431" y="50" width="6" height="5" fill="#317efb"/><rect x="437" y="50" width="6" height="5" fill="#2f81fa"/><rect x="443" y="50" width="6" height="5" fill="#2f82f9"/><rect x="449" y="50" width="6" height="5" fill="#2e83f9"/><rect x="455" y="50" width="6" height="5" fill="#2e84f8"/><rect x="461" y="50" width="5" height="5" fill="#2a92ee"/><rect x="466" y="50" width="6" height="5" fill="#2994ed"/><rect x="472" y="50" width="6" height="5" fill="#2e84f8"/><rect x="478" y="50" width="6" height="5" fill="#2994ed"/><rect x="484" y="50" width="6" height="5" fill="#2895ec"/><rect x="490" y="50" width="6" height="5" fill="#2896ec"/><rect x="496" y="50" width="6" height="5" fill="#2797eb"/><rect x="502" y="50" width="5" height="5" fill="#2797ea"/><rect x="507" y="50" width="6" height="5" fill="#2798ea"/><rect x="513" y="50" width="7" height="5" fill="#2798ea"/>
<rect x="425" y="55" width="6" height="6" fill="#2797eb"/><rect x="431" y="55" width="6" height="6" fill="#2995ec"/><rect x="437" y="55" width="6" height="6" fill="#2a93ed"/><rect x="443" y="55" width="6" height="6" fill="#2994ed"/><rect x="449" y="55" width="6" height="6" fill="#2994ed"/><rect x="455" y="55" width="6" height="6" fill="#2994ed"/><rect x="461" y="55" width="5" height="6" fill="#01b9c6"/><rect x="466" y="55" width="6" height="6" fill="#1baade"/><rect x="472" y="55" width="6" height="6" fill="#1babde"/><rect x="478" y="55" width="6" height="6" fill="#1da9e0"/><rect x="484" y="55" width="6" height="6" fill="#259ce7"/><rect x="490" y="55" width="6" height="6" fill="#21a3e3"/><rect x="496" y="55" width="6" height="6" fill="#269ae8"/><rect x="502" y="55" width="5" height="6" fill="#21a3e3"/><rect x="507" y="55" width="6" height="6" fill="#259ce7"/><rect x="513" y="55" width="7" height="6" fill="#1fa6e2"/>
<rect x="425" y="61" width="6" height="6" fill="#1baade"/><rect x="431" y="61" width="6" height="6" fill="#23c1af"/><rect x="437" y="61" width="6" height="6" fill="#27c2ac"/><rect x="443" y="61" width="6" height="6" fill="#2797eb"/><rect x="449" y="61" width="6" height="6" fill="#2797eb"/><rect x="455" y="61" width="6" height="6" fill="#2797eb"/><rect x="461" y="61" width="5" height="6" fill="#2ac3a9"/><rect x="466" y="61" width="6" height="6" fill="#2ac3a9"/><rect x="472" y="61" width="6" height="6" fill="#01b8c8"/><rect x="478" y="61" width="6" height="6" fill="#01b8ca"/><rect x="484" y="61" width="6" height="6" fill="#1baade"/><rect x="490" y="61" width="6" height="6" fill="#1da8e0"/><rect x="496" y="61" width="6" height="6" fill="#249ee6"/><rect x="502" y="61" width="5" height="6" fill="#1da8e0"/><rect x="507" y="61" width="6" height="6" fill="#1ca9df"/><rect x="513" y="61" width="7" height="6" fill="#1ca9df"/>
<rect x="425" y="67" width="6" height="6" fill="#01b8c8"/><rect x="431" y="67" width="6" height="6" fill="#03bbc3"/><rect x="437" y="67" width="6" height="6" fill="#26c2ad"/><rect x="443" y="67" width="6" height="6" fill="#2ac3a9"/><rect x="449" y="67" width="6" height="6" fill="#2cc4a6"/><rect x="455" y="67" width="6" height="6" fill="#30c5a2"/><rect x="461" y="67" width="5" height="6" fill="#42ca8c"/><rect x="466" y="67" width="6" height="6" fill="#46cb88"/><rect x="472" y="67" width="6" height="6" fill="#46cb88"/><rect x="478" y="67" width="6" height="6" fill="#29c3aa"/><rect x="484" y="67" width="6" height="6" fill="#27c2ac"/><rect x="490" y="67" width="6" height="6" fill="#27c2ab"/><rect x="496" y="67" width="6" height="6" fill="#02b7cb"/><rect x="502" y="67" width="5" height="6" fill="#19acdc"/><rect x="507" y="67" width="6" height="6" fill="#1aacdd"/><rect x="513" y="67" width="7" height="6" fill="#1babde"/>
<rect x="425" y="73" width="6" height="6" fill="#01b9c6"/><rect x="431" y="73" width="6" height="6" fill="#04bbc2"/><rect x="437" y="73" width="6" height="6" fill="#27c2ac"/><rect x="443" y="73" width="6" height="6" fill="#2dc4a5"/><rect x="449" y="73" width="6" height="6" fill="#3fca8e"/><rect x="455" y="73" width="6" height="6" fill="#45cb88"/><rect x="461" y="73" width="5" height="6" fill="#4ccb82"/><rect x="466" y="73" width="6" height="6" fill="#73cd63"/><rect x="472" y="73" width="6" height="6" fill="#4fcc81"/><rect x="478" y="73" width="6" height="6" fill="#83cc57"/><rect x="484" y="73" width="6" height="6" fill="#8acb51"/><rect x="490" y="73" width="6" height="6" fill="#87cb54"/><rect x="496" y="73" width="6" height="6" fill="#4acb84"/><rect x="502" y="73" width="5" height="6" fill="#01b8c9"/><rect x="507" y="73" width="6" height="6" fill="#01b9c6"/><rect x="513" y="73" width="7" height="6" fill="#25c2ae"/>
<rect x="425" y="79" width="6" height="6" fill="#03bbc2"/><rect x="431" y="79" width="6" height="6" fill="#26c2ac"/><rect x="437" y="79" width="6" height="6" fill="#2dc4a5"/><rect x="443" y="79" width="6" height="6" fill="#42ca8b"/><rect x="449" y="79" width="6" height="6" fill="#4acb84"/><rect x="455" y="79" width="6" height="6" fill="#50cc7f"/><rect x="461" y="79" width="5" height="6" fill="#7ecc5b"/><rect x="466" y="79" width="6" height="6" fill="#b6c532"/><rect x="472" y="79" width="6" height="6" fill="#bbc42f"/><rect x="478" y="79" width="6" height="6" fill="#bbc42f"/><rect x="484" y="79" width="6" height="6" fill="#bbc42f"/><rect x="490" y="79" width="6" height="6" fill="#bdc32e"/><rect x="496" y="79" width="6" height="6" fill="#bfc32d"/><rect x="502" y="79" width="5" height="6" fill="#42ca8b"/><rect x="507" y="79" width="6" height="6" fill="#27c2ac"/><rect x="513" y="79" width="7" height="6" fill="#27c2ac"/>
<rect x="425" y="85" width="6" height="5" fill="#29c3aa"/><rect x="431" y="85" width="6" height="5" fill="#44cb8a"/><rect x="437" y="85" width="6" height="5" fill="#47cb87"/><rect x="443" y="85" width="6" height="5" fill="#4fcc80"/><rect x="449" y="85" width="6" height="5" fill="#76cc60"/><rect x="455" y="85" width="6" height="5" fill="#85cb56"/><rect x="461" y="85" width="5" height="5" fill="#bac430"/><rect x="466" y="85" width="6" height="5" fill="#e0bc2b"/><rect x="472" y="85" width="6" height="5" fill="#febf3b"/><rect x="478" y="85" width="6" height="5" fill="#e9bb30"/><rect x="484" y="85" width="6" height="5" fill="#eaba31"/><rect x="490" y="85" width="6" height="5" fill="#eaba31"/><rect x="496" y="85" width="6" height="5" fill="#e7bb2e"/><rect x="502" y="85" width="5" height="5" fill="#cec028"/><rect x="507" y="85" width="6" height="5" fill="#e4bb2c"/><rect x="513" y="85" width="7" height="5" fill="#8bcb51"/>
<rect x="425" y="90" width="6" height="6" fill="#80cc59"/><rect x="431" y="90" width="6" height="6" fill="#83cc57"/><rect x="437" y="90" width="6" height="6" fill="#b5c533"/><rect x="443" y="90" width="6" height="6" fill="#85cb55"/><rect x="449" y="90" width="6" height="6" fill="#8bcb51"/><rect x="455" y="90" width="6" height="6" fill="#b5c533"/><rect x="461" y="90" width="5" height="6" fill="#c4c22b"/><rect x="466" y="90" width="6" height="6" fill="#e7bb2d"/><rect x="472" y="90" width="6" height="6" fill="#d1bf27"/><rect x="478" y="90" width="6" height="6" fill="#fec537"/><rect x="484" y="90" width="6" height="6" fill="#fec636"/><rect x="490" y="90" width="6" height="6" fill="#fec735"/><rect x="496" y="90" width="6" height="6" fill="#fec537"/><rect x="502" y="90" width="5" height="6" fill="#eeba35"/><rect x="507" y="90" width="6" height="6" fill="#eabb30"/><rect x="513" y="90" width="7" height="6" fill="#c6c22a"/>
<rect x="425" y="96" width="6" height="6" fill="#87cb54"/><rect x="431" y="96" width="6" height="6" fill="#b7c532"/><rect x="437" y="96" width="6" height="6" fill="#e7bb2d"/><rect x="443" y="96" width="6" height="6" fill="#b9c430"/><rect x="449" y="96" width="6" height="6" fill="#b8c431"/><rect x="455" y="96" width="6" height="6" fill="#c2c32c"/><rect x="461" y="96" width="5" height="6" fill="#e5bb2d"/><rect x="466" y="96" width="6" height="6" fill="#ecba33"/><rect x="472" y="96" width="6" height="6" fill="#fec636"/><rect x="478" y="96" width="6" height="6" fill="#feca33"/><rect x="484" y="96" width="6" height="6" fill="#f6df29"/><rect x="490" y="96" width="6" height="6" fill="#f5e128"/><rect x="496" y="96" width="6" height="6" fill="#f6df29"/><rect x="502" y="96" width="5" height="6" fill="#fec835"/><rect x="507" y="96" width="6" height="6" fill="#fec338"/><rect x="513" y="96" width="7" height="6" fill="#f0ba36"/>
<rect x="425" y="102" width="6" height="6" fill="#f3ba39"/><rect x="431" y="102" width="6" height="6" fill="#fec537"/><rect x="437" y="102" width="6" height="6" fill="#fec835"/><rect x="443" y="102" width="6" height="6" fill="#fec934"/><rect x="449" y="102" width="6" height="6" fill="#c3c22b"/><rect x="455" y="102" width="6" height="6" fill="#e5bb2d"/><rect x="461" y="102" width="5" height="6" fill="#ecba32"/><rect x="466" y="102" width="6" height="6" fill="#fec338"/><rect x="472" y="102" width="6" height="6" fill="#f6e028"/><rect x="478" y="102" width="6" height="6" fill="#f8f818"/><rect x="484" y="102" width="6" height="6" fill="#f8f917"/><rect x="490" y="102" width="6" height="6" fill="#f8f818"/><rect x="496" y="102" width="6" height="6" fill="#f7f51b"/><rect x="502" y="102" width="5" height="6" fill="#f6df29"/><rect x="507" y="102" width="6" height="6" fill="#fec735"/><rect x="513" y="102" width="7" height="6" fill="#fec438"/>
<rect x="425" y="108" width="6" height="6" fill="#fec437"/><rect x="431" y="108" width="6" height="6" fill="#fec835"/><rect x="437" y="108" width="6" height="6" fill="#f8d92b"/><rect x="443" y="108" width="6" height="6" fill="#f8da2b"/><rect x="449" y="108" width="6" height="6" fill="#fec537"/><rect x="455" y="108" width="6" height="6" fill="#ebba32"/><rect x="461" y="108" width="5" height="6" fill="#efba35"/><rect x="466" y="108" width="6" height="6" fill="#fec537"/><rect x="472" y="108" width="6" height="6" fill="#f8f818"/><rect x="478" y="108" width="6" height="6" fill="#f9fa16"/><rect x="484" y="108" width="6" height="6" fill="#f9fb15"/><rect x="490" y="108" width="6" height="6" fill="#f9fb15"/><rect x="496" y="108" width="6" height="6" fill="#f8f818"/><rect x="502" y="108" width="5" height="6" fill="#f5e427"/><rect x="507" y="108" width="6" height="6" fill="#f8ba3d"/><rect x="513" y="108" width="7" height="6" fill="#fec437"/>
</g></g>
<rect x="522.10" y="11.20" width="5.90" height="111.50" fill="url(#pg)"/>
<text class="t" transform="translate(472.00,16.60) scale(0.97,1)" word-spacing="-1.0">Patch 4</text>
<text class="l" x="531.1" y="27.0">0.28</text>
<text class="l" x="531.1" y="45.9">0.27</text>
<text class="l" x="531.1" y="64.8">0.26</text>
<text class="l" x="531.1" y="83.7">0.25</text>
<text class="l" x="531.1" y="102.6">0.24</text>
<text class="l" x="531.1" y="121.5">0.23</text>
<g filter="url(#bl)"><g clip-path="url(#cp5)" shape-rendering="crispEdges">
<rect x="5" y="138" width="7" height="6" fill="#48cb86"/><rect x="12" y="138" width="6" height="6" fill="#29c3aa"/><rect x="18" y="138" width="5" height="6" fill="#29c3aa"/><rect x="23" y="138" width="6" height="6" fill="#48cb86"/><rect x="29" y="138" width="6" height="6" fill="#81cc59"/><rect x="35" y="138" width="6" height="6" fill="#bbc42f"/><rect x="41" y="138" width="6" height="6" fill="#81cc59"/><rect x="47" y="138" width="6" height="6" fill="#48cb86"/><rect x="53" y="138" width="5" height="6" fill="#eaba31"/><rect x="58" y="138" width="6" height="6" fill="#bbc42f"/><rect x="64" y="138" width="6" height="6" fill="#29c3aa"/><rect x="70" y="138" width="6" height="6" fill="#48cb86"/><rect x="76" y="138" width="6" height="6" fill="#81cc59"/><rect x="82" y="138" width="6" height="6" fill="#bbc42f"/><rect x="88" y="138" width="6" height="6" fill="#81cc59"/><rect x="94" y="138" width="6" height="6" fill="#bbc42f"/>
<rect x="5" y="144" width="7" height="6" fill="#48cb86"/><rect x="12" y="144" width="6" height="6" fill="#48cb86"/><rect x="18" y="144" width="5" height="6" fill="#81cc59"/><rect x="23" y="144" width="6" height="6" fill="#29c3aa"/><rect x="29" y="144" width="6" height="6" fill="#bbc42f"/><rect x="35" y="144" width="6" height="6" fill="#eaba31"/><rect x="41" y="144" width="6" height="6" fill="#eaba31"/><rect x="47" y="144" width="6" height="6" fill="#bbc42f"/><rect x="53" y="144" width="5" height="6" fill="#fec735"/><rect x="58" y="144" width="6" height="6" fill="#fec735"/><rect x="64" y="144" width="6" height="6" fill="#fec735"/><rect x="70" y="144" width="6" height="6" fill="#fec735"/><rect x="76" y="144" width="6" height="6" fill="#bbc42f"/><rect x="82" y="144" width="6" height="6" fill="#81cc59"/><rect x="88" y="144" width="6" height="6" fill="#48cb86"/><rect x="94" y="144" width="6" height="6" fill="#bbc42f"/>
<rect x="5" y="150" width="7" height="6" fill="#48cb86"/><rect x="12" y="150" width="6" height="6" fill="#48cb86"/><rect x="18" y="150" width="5" height="6" fill="#bbc42f"/><rect x="23" y="150" width="6" height="6" fill="#29c3aa"/><rect x="29" y="150" width="6" height="6" fill="#bbc42f"/><rect x="35" y="150" width="6" height="6" fill="#eaba31"/><rect x="41" y="150" width="6" height="6" fill="#eaba31"/><rect x="47" y="150" width="6" height="6" fill="#eaba31"/><rect x="53" y="150" width="5" height="6" fill="#fec735"/><rect x="58" y="150" width="6" height="6" fill="#fec735"/><rect x="64" y="150" width="6" height="6" fill="#fec735"/><rect x="70" y="150" width="6" height="6" fill="#fec735"/><rect x="76" y="150" width="6" height="6" fill="#eaba31"/><rect x="82" y="150" width="6" height="6" fill="#81cc59"/><rect x="88" y="150" width="6" height="6" fill="#29c3aa"/><rect x="94" y="150" width="6" height="6" fill="#bbc42f"/>
<rect x="5" y="156" width="7" height="6" fill="#48cb86"/><rect x="12" y="156" width="6" height="6" fill="#81cc59"/><rect x="18" y="156" width="5" height="6" fill="#bbc42f"/><rect x="23" y="156" width="6" height="6" fill="#bbc42f"/><rect x="29" y="156" width="6" height="6" fill="#eaba31"/><rect x="35" y="156" width="6" height="6" fill="#eaba31"/><rect x="41" y="156" width="6" height="6" fill="#eaba31"/><rect x="47" y="156" width="6" height="6" fill="#eaba31"/><rect x="53" y="156" width="5" height="6" fill="#eaba31"/><rect x="58" y="156" width="6" height="6" fill="#fec735"/><rect x="64" y="156" width="6" height="6" fill="#fec735"/><rect x="70" y="156" width="6" height="6" fill="#fec735"/><rect x="76" y="156" width="6" height="6" fill="#eaba31"/><rect x="82" y="156" width="6" height="6" fill="#bbc42f"/><rect x="88" y="156" width="6" height="6" fill="#81cc59"/><rect x="94" y="156" width="6" height="6" fill="#fec735"/>
<rect x="5" y="162" width="7" height="6" fill="#bbc42f"/><rect x="12" y="162" width="6" height="6" fill="#eaba31"/><rect x="18" y="162" width="5" height="6" fill="#fec735"/><rect x="23" y="162" width="6" height="6" fill="#eaba31"/><rect x="29" y="162" width="6" height="6" fill="#81cc59"/><rect x="35" y="162" width="6" height="6" fill="#81cc59"/><rect x="41" y="162" width="6" height="6" fill="#bbc42f"/><rect x="47" y="162" width="6" height="6" fill="#eaba31"/><rect x="53" y="162" width="5" height="6" fill="#eaba31"/><rect x="58" y="162" width="6" height="6" fill="#fec735"/><rect x="64" y="162" width="6" height="6" fill="#fec735"/><rect x="70" y="162" width="6" height="6" fill="#fec735"/><rect x="76" y="162" width="6" height="6" fill="#fec735"/><rect x="82" y="162" width="6" height="6" fill="#fec735"/><rect x="88" y="162" width="6" height="6" fill="#eaba31"/><rect x="94" y="162" width="6" height="6" fill="#bbc42f"/>
<rect x="5" y="168" width="7" height="6" fill="#fec735"/><rect x="12" y="168" width="6" height="6" fill="#f5e128"/><rect x="18" y="168" width="5" height="6" fill="#f5e128"/><rect x="23" y="168" width="6" height="6" fill="#fec735"/><rect x="29" y="168" width="6" height="6" fill="#81cc59"/><rect x="35" y="168" width="6" height="6" fill="#bbc42f"/><rect x="41" y="168" width="6" height="6" fill="#f5e128"/><rect x="47" y="168" width="6" height="6" fill="#fec735"/><rect x="53" y="168" width="5" height="6" fill="#fec735"/><rect x="58" y="168" width="6" height="6" fill="#fec735"/><rect x="64" y="168" width="6" height="6" fill="#fec735"/><rect x="70" y="168" width="6" height="6" fill="#f5e128"/><rect x="76" y="168" width="6" height="6" fill="#f9fb15"/><rect x="82" y="168" width="6" height="6" fill="#f9fb15"/><rect x="88" y="168" width="6" height="6" fill="#f5e128"/><rect x="94" y="168" width="6" height="6" fill="#fec735"/>
<rect x="5" y="174" width="7" height="5" fill="#01b9c7"/><rect x="12" y="174" width="6" height="5" fill="#29c3aa"/><rect x="18" y="174" width="5" height="5" fill="#81cc59"/><rect x="23" y="174" width="6" height="5" fill="#bbc42f"/><rect x="29" y="174" width="6" height="5" fill="#bbc42f"/><rect x="35" y="174" width="6" height="5" fill="#eaba31"/><rect x="41" y="174" width="6" height="5" fill="#fec735"/><rect x="47" y="174" width="6" height="5" fill="#fec735"/><rect x="53" y="174" width="5" height="5" fill="#fec735"/><rect x="58" y="174" width="6" height="5" fill="#81cc59"/><rect x="64" y="174" width="6" height="5" fill="#eaba31"/><rect x="70" y="174" width="6" height="5" fill="#fec735"/><rect x="76" y="174" width="6" height="5" fill="#f9fb15"/><rect x="82" y="174" width="6" height="5" fill="#f5e128"/><rect x="88" y="174" width="6" height="5" fill="#f5e128"/><rect x="94" y="174" width="6" height="5" fill="#fec735"/>
<rect x="5" y="179" width="7" height="6" fill="#29c3aa"/><rect x="12" y="179" width="6" height="6" fill="#81cc59"/><rect x="18" y="179" width="5" height="6" fill="#bbc42f"/><rect x="23" y="179" width="6" height="6" fill="#bbc42f"/><rect x="29" y="179" width="6" height="6" fill="#bbc42f"/><rect x="35" y="179" width="6" height="6" fill="#bbc42f"/><rect x="41" y="179" width="6" height="6" fill="#eaba31"/><rect x="47" y="179" width="6" height="6" fill="#eaba31"/><rect x="53" y="179" width="5" height="6" fill="#eaba31"/><rect x="58" y="179" width="6" height="6" fill="#48cb86"/><rect x="64" y="179" width="6" height="6" fill="#81cc59"/><rect x="70" y="179" width="6" height="6" fill="#bbc42f"/><rect x="76" y="179" width="6" height="6" fill="#fec735"/><rect x="82" y="179" width="6" height="6" fill="#f5e128"/><rect x="88" y="179" width="6" height="6" fill="#f5e128"/><rect x="94" y="179" width="6" height="6" fill="#fec735"/>
<rect x="5" y="185" width="7" height="6" fill="#bbc42f"/><rect x="12" y="185" width="6" height="6" fill="#eaba31"/><rect x="18" y="185" width="5" height="6" fill="#eaba31"/><rect x="23" y="185" width="6" height="6" fill="#fec735"/><rect x="29" y="185" width="6" height="6" fill="#f5e128"/><rect x="35" y="185" width="6" height="6" fill="#fec735"/><rect x="41" y="185" width="6" height="6" fill="#eaba31"/><rect x="47" y="185" width="6" height="6" fill="#bbc42f"/><rect x="53" y="185" width="5" height="6" fill="#bbc42f"/><rect x="58" y="185" width="6" height="6" fill="#2797eb"/><rect x="64" y="185" width="6" height="6" fill="#01b9c7"/><rect x="70" y="185" width="6" height="6" fill="#81cc59"/><rect x="76" y="185" width="6" height="6" fill="#fec735"/><rect x="82" y="185" width="6" height="6" fill="#fec735"/><rect x="88" y="185" width="6" height="6" fill="#fec735"/><rect x="94" y="185" width="6" height="6" fill="#fec735"/>
<rect x="5" y="191" width="7" height="6" fill="#eaba31"/><rect x="12" y="191" width="6" height="6" fill="#eaba31"/><rect x="18" y="191" width="5" height="6" fill="#fec735"/><rect x="23" y="191" width="6" height="6" fill="#f9fb15"/><rect x="29" y="191" width="6" height="6" fill="#f9fb15"/><rect x="35" y="191" width="6" height="6" fill="#fec735"/><rect x="41" y="191" width="6" height="6" fill="#eaba31"/><rect x="47" y="191" width="6" height="6" fill="#48cb86"/><rect x="53" y="191" width="5" height="6" fill="#81cc59"/><rect x="58" y="191" width="6" height="6" fill="#2797eb"/><rect x="64" y="191" width="6" height="6" fill="#1caadf"/><rect x="70" y="191" width="6" height="6" fill="#81cc59"/><rect x="76" y="191" width="6" height="6" fill="#fec735"/><rect x="82" y="191" width="6" height="6" fill="#fec735"/><rect x="88" y="191" width="6" height="6" fill="#fec735"/><rect x="94" y="191" width="6" height="6" fill="#fec735"/>
<rect x="5" y="197" width="7" height="6" fill="#eaba31"/><rect x="12" y="197" width="6" height="6" fill="#fec735"/><rect x="18" y="197" width="5" height="6" fill="#fec735"/><rect x="23" y="197" width="6" height="6" fill="#f5e128"/><rect x="29" y="197" width="6" height="6" fill="#f5e128"/><rect x="35" y="197" width="6" height="6" fill="#fec735"/><rect x="41" y="197" width="6" height="6" fill="#29c3aa"/><rect x="47" y="197" width="6" height="6" fill="#2797eb"/><rect x="53" y="197" width="5" height="6" fill="#01b9c7"/><rect x="58" y="197" width="6" height="6" fill="#48cb86"/><rect x="64" y="197" width="6" height="6" fill="#01b9c7"/><rect x="70" y="197" width="6" height="6" fill="#bbc42f"/><rect x="76" y="197" width="6" height="6" fill="#fec735"/><rect x="82" y="197" width="6" height="6" fill="#eaba31"/><rect x="88" y="197" width="6" height="6" fill="#fec735"/><rect x="94" y="197" width="6" height="6" fill="#fec735"/>
<rect x="5" y="203" width="7" height="6" fill="#eaba31"/><rect x="12" y="203" width="6" height="6" fill="#eaba31"/><rect x="18" y="203" width="5" height="6" fill="#fec735"/><rect x="23" y="203" width="6" height="6" fill="#fec735"/><rect x="29" y="203" width="6" height="6" fill="#fec735"/><rect x="35" y="203" width="6" height="6" fill="#eaba31"/><rect x="41" y="203" width="6" height="6" fill="#48cb86"/><rect x="47" y="203" width="6" height="6" fill="#29c3aa"/><rect x="53" y="203" width="5" height="6" fill="#29c3aa"/><rect x="58" y="203" width="6" height="6" fill="#eaba31"/><rect x="64" y="203" width="6" height="6" fill="#29c3aa"/><rect x="70" y="203" width="6" height="6" fill="#bbc42f"/><rect x="76" y="203" width="6" height="6" fill="#fec735"/><rect x="82" y="203" width="6" height="6" fill="#fec735"/><rect x="88" y="203" width="6" height="6" fill="#eaba31"/><rect x="94" y="203" width="6" height="6" fill="#eaba31"/>
<rect x="5" y="209" width="7" height="6" fill="#eaba31"/><rect x="12" y="209" width="6" height="6" fill="#eaba31"/><rect x="18" y="209" width="5" height="6" fill="#fec735"/><rect x="23" y="209" width="6" height="6" fill="#fec735"/><rect x="29" y="209" width="6" height="6" fill="#f5e128"/><rect x="35" y="209" width="6" height="6" fill="#f5e128"/><rect x="41" y="209" width="6" height="6" fill="#fec735"/><rect x="47" y="209" width="6" height="6" fill="#bbc42f"/><rect x="53" y="209" width="5" height="6" fill="#eaba31"/><rect x="58" y="209" width="6" height="6" fill="#fec735"/><rect x="64" y="209" width="6" height="6" fill="#81cc59"/><rect x="70" y="209" width="6" height="6" fill="#2797eb"/><rect x="76" y="209" width="6" height="6" fill="#81cc59"/><rect x="82" y="209" width="6" height="6" fill="#bbc42f"/><rect x="88" y="209" width="6" height="6" fill="#eaba31"/><rect x="94" y="209" width="6" height="6" fill="#eaba31"/>
<rect x="5" y="215" width="7" height="5" fill="#fec735"/><rect x="12" y="215" width="6" height="5" fill="#eaba31"/><rect x="18" y="215" width="5" height="5" fill="#eaba31"/><rect x="23" y="215" width="6" height="5" fill="#eaba31"/><rect x="29" y="215" width="6" height="5" fill="#eaba31"/><rect x="35" y="215" width="6" height="5" fill="#fec735"/><rect x="41" y="215" width="6" height="5" fill="#fec735"/><rect x="47" y="215" width="6" height="5" fill="#fec735"/><rect x="53" y="215" width="5" height="5" fill="#fec735"/><rect x="58" y="215" width="6" height="5" fill="#48cb86"/><rect x="64" y="215" width="6" height="5" fill="#2797eb"/><rect x="70" y="215" width="6" height="5" fill="#3e26a8"/><rect x="76" y="215" width="6" height="5" fill="#01b9c7"/><rect x="82" y="215" width="6" height="5" fill="#29c3aa"/><rect x="88" y="215" width="6" height="5" fill="#81cc59"/><rect x="94" y="215" width="6" height="5" fill="#bbc42f"/>
<rect x="5" y="220" width="7" height="6" fill="#81cc59"/><rect x="12" y="220" width="6" height="6" fill="#48cb86"/><rect x="18" y="220" width="5" height="6" fill="#48cb86"/><rect x="23" y="220" width="6" height="6" fill="#81cc59"/><rect x="29" y="220" width="6" height="6" fill="#bbc42f"/><rect x="35" y="220" width="6" height="6" fill="#bbc42f"/><rect x="41" y="220" width="6" height="6" fill="#bbc42f"/><rect x="47" y="220" width="6" height="6" fill="#eaba31"/><rect x="53" y="220" width="5" height="6" fill="#81cc59"/><rect x="58" y="220" width="6" height="6" fill="#1caadf"/><rect x="64" y="220" width="6" height="6" fill="#4367fd"/><rect x="70" y="220" width="6" height="6" fill="#4367fd"/><rect x="76" y="220" width="6" height="6" fill="#2797eb"/><rect x="82" y="220" width="6" height="6" fill="#01b9c7"/><rect x="88" y="220" width="6" height="6" fill="#81cc59"/><rect x="94" y="220" width="6" height="6" fill="#f5e128"/>
<rect x="5" y="226" width="7" height="7" fill="#48cb86"/><rect x="12" y="226" width="6" height="7" fill="#29c3aa"/><rect x="18" y="226" width="5" height="7" fill="#29c3aa"/><rect x="23" y="226" width="6" height="7" fill="#48cb86"/><rect x="29" y="226" width="6" height="7" fill="#81cc59"/><rect x="35" y="226" width="6" height="7" fill="#81cc59"/><rect x="41" y="226" width="6" height="7" fill="#81cc59"/><rect x="47" y="226" width="6" height="7" fill="#bbc42f"/><rect x="53" y="226" width="5" height="7" fill="#bbc42f"/><rect x="58" y="226" width="6" height="7" fill="#01b9c7"/><rect x="64" y="226" width="6" height="7" fill="#1caadf"/><rect x="70" y="226" width="6" height="7" fill="#1caadf"/><rect x="76" y="226" width="6" height="7" fill="#01b9c7"/><rect x="82" y="226" width="6" height="7" fill="#48cb86"/><rect x="88" y="226" width="6" height="7" fill="#f9fb15"/><rect x="94" y="226" width="6" height="7" fill="#fec735"/>
</g></g>
<rect x="102.30" y="129.20" width="5.70" height="112.00" fill="url(#pg)"/>
<text class="t" transform="translate(52.65,134.85) scale(0.97,1)" word-spacing="-1.0">Patch 5</text>
<text class="l" x="111.1" y="144.0">0.25</text>
<text class="l" x="111.1" y="165.5">0.24</text>
<text class="l" x="111.1" y="186.9">0.23</text>
<text class="l" x="111.1" y="208.3">0.22</text>
<text class="l" x="111.1" y="229.7">0.21</text>
<g filter="url(#bl)"><g clip-path="url(#cp6)" shape-rendering="crispEdges">
<rect x="146" y="138" width="6" height="7" fill="#fec735"/><rect x="152" y="138" width="6" height="7" fill="#4538d7"/><rect x="158" y="138" width="6" height="7" fill="#2f80fa"/><rect x="164" y="138" width="6" height="7" fill="#01b9c7"/><rect x="170" y="138" width="5" height="7" fill="#29c3aa"/><rect x="175" y="138" width="6" height="7" fill="#29c3aa"/><rect x="181" y="138" width="6" height="7" fill="#01b9c7"/><rect x="187" y="138" width="6" height="7" fill="#eaba31"/><rect x="193" y="138" width="6" height="7" fill="#29c3aa"/><rect x="199" y="138" width="6" height="7" fill="#2797eb"/><rect x="205" y="138" width="6" height="7" fill="#2797eb"/><rect x="211" y="138" width="5" height="7" fill="#2797eb"/><rect x="216" y="138" width="6" height="7" fill="#2f80fa"/><rect x="222" y="138" width="6" height="7" fill="#2f80fa"/><rect x="228" y="138" width="6" height="7" fill="#2797eb"/><rect x="234" y="138" width="6" height="7" fill="#2797eb"/>
<rect x="146" y="145" width="6" height="6" fill="#f9fb15"/><rect x="152" y="145" width="6" height="6" fill="#2f80fa"/><rect x="158" y="145" width="6" height="6" fill="#2797eb"/><rect x="164" y="145" width="6" height="6" fill="#01b9c7"/><rect x="170" y="145" width="5" height="6" fill="#29c3aa"/><rect x="175" y="145" width="6" height="6" fill="#81cc59"/><rect x="181" y="145" width="6" height="6" fill="#29c3aa"/><rect x="187" y="145" width="6" height="6" fill="#81cc59"/><rect x="193" y="145" width="6" height="6" fill="#48cb86"/><rect x="199" y="145" width="6" height="6" fill="#1caadf"/><rect x="205" y="145" width="6" height="6" fill="#2797eb"/><rect x="211" y="145" width="5" height="6" fill="#2797eb"/><rect x="216" y="145" width="6" height="6" fill="#2f80fa"/><rect x="222" y="145" width="6" height="6" fill="#2f80fa"/><rect x="228" y="145" width="6" height="6" fill="#2f80fa"/><rect x="234" y="145" width="6" height="6" fill="#01b9c7"/>
<rect x="146" y="151" width="6" height="5" fill="#01b9c7"/><rect x="152" y="151" width="6" height="5" fill="#48cb86"/><rect x="158" y="151" width="6" height="5" fill="#81cc59"/><rect x="164" y="151" width="6" height="5" fill="#29c3aa"/><rect x="170" y="151" width="5" height="5" fill="#01b9c7"/><rect x="175" y="151" width="6" height="5" fill="#48cb86"/><rect x="181" y="151" width="6" height="5" fill="#48cb86"/><rect x="187" y="151" width="6" height="5" fill="#01b9c7"/><rect x="193" y="151" width="6" height="5" fill="#81cc59"/><rect x="199" y="151" width="6" height="5" fill="#01b9c7"/><rect x="205" y="151" width="6" height="5" fill="#2797eb"/><rect x="211" y="151" width="5" height="5" fill="#2f80fa"/><rect x="216" y="151" width="6" height="5" fill="#2f80fa"/><rect x="222" y="151" width="6" height="5" fill="#4367fd"/><rect x="228" y="151" width="6" height="5" fill="#2f80fa"/><rect x="234" y="151" width="6" height="5" fill="#2f80fa"/>
<rect x="146" y="156" width="6" height="6" fill="#2797eb"/><rect x="152" y="156" width="6" height="6" fill="#01b9c7"/><rect x="158" y="156" width="6" height="6" fill="#29c3aa"/><rect x="164" y="156" width="6" height="6" fill="#01b9c7"/><rect x="170" y="156" width="5" height="6" fill="#1caadf"/><rect x="175" y="156" width="6" height="6" fill="#01b9c7"/><rect x="181" y="156" width="6" height="6" fill="#01b9c7"/><rect x="187" y="156" width="6" height="6" fill="#29c3aa"/><rect x="193" y="156" width="6" height="6" fill="#81cc59"/><rect x="199" y="156" width="6" height="6" fill="#01b9c7"/><rect x="205" y="156" width="6" height="6" fill="#484ff2"/><rect x="211" y="156" width="5" height="6" fill="#2797eb"/><rect x="216" y="156" width="6" height="6" fill="#2797eb"/><rect x="222" y="156" width="6" height="6" fill="#2f80fa"/><rect x="228" y="156" width="6" height="6" fill="#2797eb"/><rect x="234" y="156" width="6" height="6" fill="#2f80fa"/>
<rect x="146" y="162" width="6" height="6" fill="#1caadf"/><rect x="152" y="162" width="6" height="6" fill="#eaba31"/><rect x="158" y="162" width="6" height="6" fill="#eaba31"/><rect x="164" y="162" width="6" height="6" fill="#1caadf"/><rect x="170" y="162" width="5" height="6" fill="#1caadf"/><rect x="175" y="162" width="6" height="6" fill="#1caadf"/><rect x="181" y="162" width="6" height="6" fill="#1caadf"/><rect x="187" y="162" width="6" height="6" fill="#01b9c7"/><rect x="193" y="162" width="6" height="6" fill="#29c3aa"/><rect x="199" y="162" width="6" height="6" fill="#01b9c7"/><rect x="205" y="162" width="6" height="6" fill="#1caadf"/><rect x="211" y="162" width="5" height="6" fill="#48cb86"/><rect x="216" y="162" width="6" height="6" fill="#01b9c7"/><rect x="222" y="162" width="6" height="6" fill="#2797eb"/><rect x="228" y="162" width="6" height="6" fill="#1caadf"/><rect x="234" y="162" width="6" height="6" fill="#2797eb"/>
<rect x="146" y="168" width="6" height="6" fill="#01b9c7"/><rect x="152" y="168" width="6" height="6" fill="#eaba31"/><rect x="158" y="168" width="6" height="6" fill="#f9fb15"/><rect x="164" y="168" width="6" height="6" fill="#01b9c7"/><rect x="170" y="168" width="5" height="6" fill="#01b9c7"/><rect x="175" y="168" width="6" height="6" fill="#01b9c7"/><rect x="181" y="168" width="6" height="6" fill="#1caadf"/><rect x="187" y="168" width="6" height="6" fill="#1caadf"/><rect x="193" y="168" width="6" height="6" fill="#2797eb"/><rect x="199" y="168" width="6" height="6" fill="#2797eb"/><rect x="205" y="168" width="6" height="6" fill="#29c3aa"/><rect x="211" y="168" width="5" height="6" fill="#bbc42f"/><rect x="216" y="168" width="6" height="6" fill="#29c3aa"/><rect x="222" y="168" width="6" height="6" fill="#2797eb"/><rect x="228" y="168" width="6" height="6" fill="#1caadf"/><rect x="234" y="168" width="6" height="6" fill="#2797eb"/>
<rect x="146" y="174" width="6" height="6" fill="#01b9c7"/><rect x="152" y="174" width="6" height="6" fill="#48cb86"/><rect x="158" y="174" width="6" height="6" fill="#eaba31"/><rect x="164" y="174" width="6" height="6" fill="#81cc59"/><rect x="170" y="174" width="5" height="6" fill="#29c3aa"/><rect x="175" y="174" width="6" height="6" fill="#29c3aa"/><rect x="181" y="174" width="6" height="6" fill="#29c3aa"/><rect x="187" y="174" width="6" height="6" fill="#eaba31"/><rect x="193" y="174" width="6" height="6" fill="#48cb86"/><rect x="199" y="174" width="6" height="6" fill="#01b9c7"/><rect x="205" y="174" width="6" height="6" fill="#eaba31"/><rect x="211" y="174" width="5" height="6" fill="#fec735"/><rect x="216" y="174" width="6" height="6" fill="#eaba31"/><rect x="222" y="174" width="6" height="6" fill="#29c3aa"/><rect x="228" y="174" width="6" height="6" fill="#01b9c7"/><rect x="234" y="174" width="6" height="6" fill="#1caadf"/>
<rect x="146" y="180" width="6" height="6" fill="#29c3aa"/><rect x="152" y="180" width="6" height="6" fill="#bbc42f"/><rect x="158" y="180" width="6" height="6" fill="#eaba31"/><rect x="164" y="180" width="6" height="6" fill="#bbc42f"/><rect x="170" y="180" width="5" height="6" fill="#81cc59"/><rect x="175" y="180" width="6" height="6" fill="#fec735"/><rect x="181" y="180" width="6" height="6" fill="#fec735"/><rect x="187" y="180" width="6" height="6" fill="#eaba31"/><rect x="193" y="180" width="6" height="6" fill="#81cc59"/><rect x="199" y="180" width="6" height="6" fill="#29c3aa"/><rect x="205" y="180" width="6" height="6" fill="#fec735"/><rect x="211" y="180" width="5" height="6" fill="#f9fb15"/><rect x="216" y="180" width="6" height="6" fill="#f9fb15"/><rect x="222" y="180" width="6" height="6" fill="#bbc42f"/><rect x="228" y="180" width="6" height="6" fill="#2f80fa"/><rect x="234" y="180" width="6" height="6" fill="#2f80fa"/>
<rect x="146" y="186" width="6" height="6" fill="#48cb86"/><rect x="152" y="186" width="6" height="6" fill="#81cc59"/><rect x="158" y="186" width="6" height="6" fill="#bbc42f"/><rect x="164" y="186" width="6" height="6" fill="#81cc59"/><rect x="170" y="186" width="5" height="6" fill="#81cc59"/><rect x="175" y="186" width="6" height="6" fill="#bbc42f"/><rect x="181" y="186" width="6" height="6" fill="#bbc42f"/><rect x="187" y="186" width="6" height="6" fill="#eaba31"/><rect x="193" y="186" width="6" height="6" fill="#bbc42f"/><rect x="199" y="186" width="6" height="6" fill="#eaba31"/><rect x="205" y="186" width="6" height="6" fill="#bbc42f"/><rect x="211" y="186" width="5" height="6" fill="#bbc42f"/><rect x="216" y="186" width="6" height="6" fill="#bbc42f"/><rect x="222" y="186" width="6" height="6" fill="#81cc59"/><rect x="228" y="186" width="6" height="6" fill="#01b9c7"/><rect x="234" y="186" width="6" height="6" fill="#4367fd"/>
<rect x="146" y="192" width="6" height="5" fill="#48cb86"/><rect x="152" y="192" width="6" height="5" fill="#bbc42f"/><rect x="158" y="192" width="6" height="5" fill="#bbc42f"/><rect x="164" y="192" width="6" height="5" fill="#48cb86"/><rect x="170" y="192" width="5" height="5" fill="#01b9c7"/><rect x="175" y="192" width="6" height="5" fill="#81cc59"/><rect x="181" y="192" width="6" height="5" fill="#fec735"/><rect x="187" y="192" width="6" height="5" fill="#fec735"/><rect x="193" y="192" width="6" height="5" fill="#eaba31"/><rect x="199" y="192" width="6" height="5" fill="#f9fb15"/><rect x="205" y="192" width="6" height="5" fill="#fec735"/><rect x="211" y="192" width="5" height="5" fill="#2797eb"/><rect x="216" y="192" width="6" height="5" fill="#2f80fa"/><rect x="222" y="192" width="6" height="5" fill="#1caadf"/><rect x="228" y="192" width="6" height="5" fill="#2797eb"/><rect x="234" y="192" width="6" height="5" fill="#484ff2"/>
<rect x="146" y="197" width="6" height="6" fill="#01b9c7"/><rect x="152" y="197" width="6" height="6" fill="#bbc42f"/><rect x="158" y="197" width="6" height="6" fill="#81cc59"/><rect x="164" y="197" width="6" height="6" fill="#2f80fa"/><rect x="170" y="197" width="5" height="6" fill="#2f80fa"/><rect x="175" y="197" width="6" height="6" fill="#48cb86"/><rect x="181" y="197" width="6" height="6" fill="#f5e128"/><rect x="187" y="197" width="6" height="6" fill="#fec735"/><rect x="193" y="197" width="6" height="6" fill="#29c3aa"/><rect x="199" y="197" width="6" height="6" fill="#29c3aa"/><rect x="205" y="197" width="6" height="6" fill="#81cc59"/><rect x="211" y="197" width="5" height="6" fill="#48cb86"/><rect x="216" y="197" width="6" height="6" fill="#01b9c7"/><rect x="222" y="197" width="6" height="6" fill="#4367fd"/><rect x="228" y="197" width="6" height="6" fill="#484ff2"/><rect x="234" y="197" width="6" height="6" fill="#4538d7"/>
<rect x="146" y="203" width="6" height="6" fill="#01b9c7"/><rect x="152" y="203" width="6" height="6" fill="#bbc42f"/><rect x="158" y="203" width="6" height="6" fill="#81cc59"/><rect x="164" y="203" width="6" height="6" fill="#2f80fa"/><rect x="170" y="203" width="5" height="6" fill="#2797eb"/><rect x="175" y="203" width="6" height="6" fill="#bbc42f"/><rect x="181" y="203" width="6" height="6" fill="#81cc59"/><rect x="187" y="203" width="6" height="6" fill="#1caadf"/><rect x="193" y="203" width="6" height="6" fill="#2797eb"/><rect x="199" y="203" width="6" height="6" fill="#2797eb"/><rect x="205" y="203" width="6" height="6" fill="#2f80fa"/><rect x="211" y="203" width="5" height="6" fill="#01b9c7"/><rect x="216" y="203" width="6" height="6" fill="#1caadf"/><rect x="222" y="203" width="6" height="6" fill="#484ff2"/><rect x="228" y="203" width="6" height="6" fill="#4367fd"/><rect x="234" y="203" width="6" height="6" fill="#4538d7"/>
<rect x="146" y="209" width="6" height="6" fill="#29c3aa"/><rect x="152" y="209" width="6" height="6" fill="#81cc59"/><rect x="158" y="209" width="6" height="6" fill="#bbc42f"/><rect x="164" y="209" width="6" height="6" fill="#2797eb"/><rect x="170" y="209" width="5" height="6" fill="#2797eb"/><rect x="175" y="209" width="6" height="6" fill="#81cc59"/><rect x="181" y="209" width="6" height="6" fill="#48cb86"/><rect x="187" y="209" width="6" height="6" fill="#01b9c7"/><rect x="193" y="209" width="6" height="6" fill="#2797eb"/><rect x="199" y="209" width="6" height="6" fill="#2797eb"/><rect x="205" y="209" width="6" height="6" fill="#2797eb"/><rect x="211" y="209" width="5" height="6" fill="#2797eb"/><rect x="216" y="209" width="6" height="6" fill="#484ff2"/><rect x="222" y="209" width="6" height="6" fill="#4367fd"/><rect x="228" y="209" width="6" height="6" fill="#4367fd"/><rect x="234" y="209" width="6" height="6" fill="#484ff2"/>
<rect x="146" y="215" width="6" height="6" fill="#1caadf"/><rect x="152" y="215" width="6" height="6" fill="#81cc59"/><rect x="158" y="215" width="6" height="6" fill="#eaba31"/><rect x="164" y="215" width="6" height="6" fill="#1caadf"/><rect x="170" y="215" width="5" height="6" fill="#4367fd"/><rect x="175" y="215" width="6" height="6" fill="#01b9c7"/><rect x="181" y="215" width="6" height="6" fill="#29c3aa"/><rect x="187" y="215" width="6" height="6" fill="#29c3aa"/><rect x="193" y="215" width="6" height="6" fill="#29c3aa"/><rect x="199" y="215" width="6" height="6" fill="#01b9c7"/><rect x="205" y="215" width="6" height="6" fill="#29c3aa"/><rect x="211" y="215" width="5" height="6" fill="#01b9c7"/><rect x="216" y="215" width="6" height="6" fill="#2797eb"/><rect x="222" y="215" width="6" height="6" fill="#4367fd"/><rect x="228" y="215" width="6" height="6" fill="#4367fd"/><rect x="234" y="215" width="6" height="6" fill="#484ff2"/>
<rect x="146" y="221" width="6" height="6" fill="#2f80fa"/><rect x="152" y="221" width="6" height="6" fill="#29c3aa"/><rect x="158" y="221" width="6" height="6" fill="#48cb86"/><rect x="164" y="221" width="6" height="6" fill="#1caadf"/><rect x="170" y="221" width="5" height="6" fill="#484ff2"/><rect x="175" y="221" width="6" height="6" fill="#1caadf"/><rect x="181" y="221" width="6" height="6" fill="#1caadf"/><rect x="187" y="221" width="6" height="6" fill="#1caadf"/><rect x="193" y="221" width="6" height="6" fill="#01b9c7"/><rect x="199" y="221" width="6" height="6" fill="#01b9c7"/><rect x="205" y="221" width="6" height="6" fill="#01b9c7"/><rect x="211" y="221" width="5" height="6" fill="#01b9c7"/><rect x="216" y="221" width="6" height="6" fill="#2797eb"/><rect x="222" y="221" width="6" height="6" fill="#4367fd"/><rect x="228" y="221" width="6" height="6" fill="#4367fd"/><rect x="234" y="221" width="6" height="6" fill="#484ff2"/>
<rect x="146" y="227" width="6" height="6" fill="#4367fd"/><rect x="152" y="227" width="6" height="6" fill="#2797eb"/><rect x="158" y="227" width="6" height="6" fill="#2797eb"/><rect x="164" y="227" width="6" height="6" fill="#2f80fa"/><rect x="170" y="227" width="5" height="6" fill="#4367fd"/><rect x="175" y="227" width="6" height="6" fill="#2797eb"/><rect x="181" y="227" width="6" height="6" fill="#2797eb"/><rect x="187" y="227" width="6" height="6" fill="#2797eb"/><rect x="193" y="227" width="6" height="6" fill="#2f80fa"/><rect x="199" y="227" width="6" height="6" fill="#2797eb"/><rect x="205" y="227" width="6" height="6" fill="#2797eb"/><rect x="211" y="227" width="5" height="6" fill="#2797eb"/><rect x="216" y="227" width="6" height="6" fill="#2f80fa"/><rect x="222" y="227" width="6" height="6" fill="#4367fd"/><rect x="228" y="227" width="6" height="6" fill="#4538d7"/><rect x="234" y="227" width="6" height="6" fill="#3e26a8"/>
</g></g>
<rect x="242.50" y="130.00" width="5.80" height="111.50" fill="url(#pg)"/>
<text class="t" transform="translate(192.90,134.85) scale(0.97,1)" word-spacing="-1.0">Patch 6</text>
<text class="l" x="251.6" y="135.7">0.22</text>
<text class="l" x="251.6" y="152.7">0.21</text>
<text class="l" x="251.6" y="169.7">0.20</text>
<text class="l" x="251.6" y="186.7">0.19</text>
<text class="l" x="251.6" y="203.7">0.18</text>
<text class="l" x="251.6" y="220.7">0.17</text>
<text class="l" x="251.6" y="237.7">0.16</text>
<g filter="url(#bl)"><g clip-path="url(#cp7)" shape-rendering="crispEdges">
<rect x="286" y="138" width="6" height="7" fill="#fec438"/><rect x="292" y="138" width="6" height="7" fill="#edba33"/><rect x="298" y="138" width="6" height="7" fill="#71cd64"/><rect x="304" y="138" width="6" height="7" fill="#4dcc82"/><rect x="310" y="138" width="5" height="7" fill="#c4c22a"/><rect x="315" y="138" width="6" height="7" fill="#fec835"/><rect x="321" y="138" width="6" height="7" fill="#f7dd2a"/><rect x="327" y="138" width="6" height="7" fill="#f7f41c"/><rect x="333" y="138" width="5" height="7" fill="#f8f61a"/><rect x="338" y="138" width="6" height="7" fill="#feca33"/><rect x="344" y="138" width="6" height="7" fill="#21c1b0"/><rect x="350" y="138" width="6" height="7" fill="#1baade"/><rect x="356" y="138" width="6" height="7" fill="#1da9e0"/><rect x="362" y="138" width="5" height="7" fill="#1aabdd"/><rect x="367" y="138" width="6" height="7" fill="#03b7cc"/><rect x="373" y="138" width="6" height="7" fill="#47cb87"/>
<rect x="286" y="145" width="6" height="5" fill="#fec537"/><rect x="292" y="145" width="6" height="5" fill="#bec32e"/><rect x="298" y="145" width="6" height="5" fill="#4ccb83"/><rect x="304" y="145" width="6" height="5" fill="#4ccb83"/><rect x="310" y="145" width="5" height="5" fill="#ecba33"/><rect x="315" y="145" width="6" height="5" fill="#fec636"/><rect x="321" y="145" width="6" height="5" fill="#fdcc32"/><rect x="327" y="145" width="6" height="5" fill="#f5e327"/><rect x="333" y="145" width="5" height="5" fill="#f5e426"/><rect x="338" y="145" width="6" height="5" fill="#bcc42f"/><rect x="344" y="145" width="6" height="5" fill="#02b7cb"/><rect x="350" y="145" width="6" height="5" fill="#1da9e0"/><rect x="356" y="145" width="6" height="5" fill="#259be7"/><rect x="362" y="145" width="5" height="5" fill="#1ca9df"/><rect x="367" y="145" width="6" height="5" fill="#05b6ce"/><rect x="373" y="145" width="6" height="5" fill="#47cb87"/>
<rect x="286" y="150" width="6" height="6" fill="#fec537"/><rect x="292" y="150" width="6" height="6" fill="#bec32e"/><rect x="298" y="150" width="6" height="6" fill="#4acb85"/><rect x="304" y="150" width="6" height="6" fill="#4acb85"/><rect x="310" y="150" width="5" height="6" fill="#76cc61"/><rect x="315" y="150" width="6" height="6" fill="#81cc58"/><rect x="321" y="150" width="6" height="6" fill="#81cc59"/><rect x="327" y="150" width="6" height="6" fill="#79cc5e"/><rect x="333" y="150" width="5" height="6" fill="#48cb86"/><rect x="338" y="150" width="6" height="6" fill="#29c3a9"/><rect x="344" y="150" width="6" height="6" fill="#1ea8e1"/><rect x="350" y="150" width="6" height="6" fill="#2798ea"/><rect x="356" y="150" width="6" height="6" fill="#2d88f6"/><rect x="362" y="150" width="5" height="6" fill="#2699e9"/><rect x="367" y="150" width="6" height="6" fill="#1caadf"/><rect x="373" y="150" width="6" height="6" fill="#47cb87"/>
<rect x="286" y="156" width="6" height="6" fill="#fec03a"/><rect x="292" y="156" width="6" height="6" fill="#ecba32"/><rect x="298" y="156" width="6" height="6" fill="#7acc5d"/><rect x="304" y="156" width="6" height="6" fill="#2cc4a7"/><rect x="310" y="156" width="5" height="6" fill="#01b8ca"/><rect x="315" y="156" width="6" height="6" fill="#1ca9df"/><rect x="321" y="156" width="6" height="6" fill="#1ca9df"/><rect x="327" y="156" width="6" height="6" fill="#1aabdd"/><rect x="333" y="156" width="5" height="6" fill="#19acdc"/><rect x="338" y="156" width="6" height="6" fill="#1caadf"/><rect x="344" y="156" width="6" height="6" fill="#259ce7"/><rect x="350" y="156" width="6" height="6" fill="#2796eb"/><rect x="356" y="156" width="6" height="6" fill="#3e70ff"/><rect x="362" y="156" width="5" height="6" fill="#2798ea"/><rect x="367" y="156" width="6" height="6" fill="#1ca9df"/><rect x="373" y="156" width="6" height="6" fill="#04b6cd"/>
<rect x="286" y="162" width="6" height="6" fill="#ebba32"/><rect x="292" y="162" width="6" height="6" fill="#e8bb2f"/><rect x="298" y="162" width="6" height="6" fill="#85cb55"/><rect x="304" y="162" width="6" height="6" fill="#1ca9df"/><rect x="310" y="162" width="5" height="6" fill="#2797eb"/><rect x="315" y="162" width="6" height="6" fill="#2e84f8"/><rect x="321" y="162" width="6" height="6" fill="#2699e9"/><rect x="327" y="162" width="6" height="6" fill="#03b7cc"/><rect x="333" y="162" width="5" height="6" fill="#05b6ce"/><rect x="338" y="162" width="6" height="6" fill="#1babde"/><rect x="344" y="162" width="6" height="6" fill="#1ea6e1"/><rect x="350" y="162" width="6" height="6" fill="#2796eb"/><rect x="356" y="162" width="6" height="6" fill="#2e86f7"/><rect x="362" y="162" width="5" height="6" fill="#2797ea"/><rect x="367" y="162" width="6" height="6" fill="#1caadf"/><rect x="373" y="162" width="6" height="6" fill="#03b7cc"/>
<rect x="286" y="168" width="6" height="5" fill="#8ccb50"/><rect x="292" y="168" width="6" height="5" fill="#bbc42f"/><rect x="298" y="168" width="6" height="5" fill="#24c1ae"/><rect x="304" y="168" width="6" height="5" fill="#1ea7e1"/><rect x="310" y="168" width="5" height="5" fill="#317efb"/><rect x="315" y="168" width="6" height="5" fill="#406dfe"/><rect x="321" y="168" width="6" height="5" fill="#2a93ee"/><rect x="327" y="168" width="6" height="5" fill="#01b9c8"/><rect x="333" y="168" width="5" height="5" fill="#02b7cb"/><rect x="338" y="168" width="6" height="5" fill="#19acdc"/><rect x="344" y="168" width="6" height="5" fill="#1da8e0"/><rect x="350" y="168" width="6" height="5" fill="#2797eb"/><rect x="356" y="168" width="6" height="5" fill="#2d87f7"/><rect x="362" y="168" width="5" height="5" fill="#2797eb"/><rect x="367" y="168" width="6" height="5" fill="#1caadf"/><rect x="373" y="168" width="6" height="5" fill="#03b7cc"/>
<rect x="286" y="173" width="6" height="6" fill="#23c1af"/><rect x="292" y="173" width="6" height="6" fill="#01bac5"/><rect x="298" y="173" width="6" height="6" fill="#1baadf"/><rect x="304" y="173" width="6" height="6" fill="#269ae9"/><rect x="310" y="173" width="5" height="6" fill="#4465fd"/><rect x="315" y="173" width="6" height="6" fill="#4368fe"/><rect x="321" y="173" width="6" height="6" fill="#307ffb"/><rect x="327" y="173" width="6" height="6" fill="#02b7cb"/><rect x="333" y="173" width="5" height="6" fill="#04b6cc"/><rect x="338" y="173" width="6" height="6" fill="#19addc"/><rect x="344" y="173" width="6" height="6" fill="#1da8e0"/><rect x="350" y="173" width="6" height="6" fill="#2797ea"/><rect x="356" y="173" width="6" height="6" fill="#2d89f5"/><rect x="362" y="173" width="5" height="6" fill="#2699e9"/><rect x="367" y="173" width="6" height="6" fill="#1caadf"/><rect x="373" y="173" width="6" height="6" fill="#07b5cf"/>
<rect x="286" y="179" width="6" height="6" fill="#2a93ee"/><rect x="292" y="179" width="6" height="6" fill="#2f80fa"/><rect x="298" y="179" width="6" height="6" fill="#4464fd"/><rect x="304" y="179" width="6" height="6" fill="#4851f3"/><rect x="310" y="179" width="5" height="6" fill="#4851f3"/><rect x="315" y="179" width="6" height="6" fill="#4852f4"/><rect x="321" y="179" width="6" height="6" fill="#307ffb"/><rect x="327" y="179" width="6" height="6" fill="#1aacdd"/><rect x="333" y="179" width="5" height="6" fill="#19addc"/><rect x="338" y="179" width="6" height="6" fill="#0eb2d4"/><rect x="344" y="179" width="6" height="6" fill="#1da9e0"/><rect x="350" y="179" width="6" height="6" fill="#2698ea"/><rect x="356" y="179" width="6" height="6" fill="#2797eb"/><rect x="362" y="179" width="5" height="6" fill="#1ea7e1"/><rect x="367" y="179" width="6" height="6" fill="#1babde"/><rect x="373" y="179" width="6" height="6" fill="#19addc"/>
<rect x="286" y="185" width="6" height="5" fill="#4538d7"/><rect x="292" y="185" width="6" height="5" fill="#4539d9"/><rect x="298" y="185" width="6" height="5" fill="#463ee0"/><rect x="304" y="185" width="6" height="5" fill="#484ff2"/><rect x="310" y="185" width="5" height="5" fill="#4851f3"/><rect x="315" y="185" width="6" height="5" fill="#4852f4"/><rect x="321" y="185" width="6" height="5" fill="#2f80fa"/><rect x="327" y="185" width="6" height="5" fill="#1ea8e1"/><rect x="333" y="185" width="5" height="5" fill="#1ca9e0"/><rect x="338" y="185" width="6" height="5" fill="#1baade"/><rect x="344" y="185" width="6" height="5" fill="#1da8e0"/><rect x="350" y="185" width="6" height="5" fill="#2699e9"/><rect x="356" y="185" width="6" height="5" fill="#2798ea"/><rect x="362" y="185" width="5" height="5" fill="#1ea6e1"/><rect x="367" y="185" width="6" height="5" fill="#1babde"/><rect x="373" y="185" width="6" height="5" fill="#07b5cf"/>
<rect x="286" y="190" width="6" height="6" fill="#4537d6"/><rect x="292" y="190" width="6" height="6" fill="#4538d8"/><rect x="298" y="190" width="6" height="6" fill="#484bef"/><rect x="304" y="190" width="6" height="6" fill="#4850f3"/><rect x="310" y="190" width="5" height="6" fill="#4561fc"/><rect x="315" y="190" width="6" height="6" fill="#4367fd"/><rect x="321" y="190" width="6" height="6" fill="#317efb"/><rect x="327" y="190" width="6" height="6" fill="#2796eb"/><rect x="333" y="190" width="5" height="6" fill="#269ae8"/><rect x="338" y="190" width="6" height="6" fill="#1ea6e1"/><rect x="344" y="190" width="6" height="6" fill="#1fa5e2"/><rect x="350" y="190" width="6" height="6" fill="#2798ea"/><rect x="356" y="190" width="6" height="6" fill="#2797eb"/><rect x="362" y="190" width="5" height="6" fill="#269ae8"/><rect x="367" y="190" width="6" height="6" fill="#1babde"/><rect x="373" y="190" width="6" height="6" fill="#03b7cc"/>
<rect x="286" y="196" width="6" height="6" fill="#4537d5"/><rect x="292" y="196" width="6" height="6" fill="#412cb8"/><rect x="298" y="196" width="6" height="6" fill="#484cf0"/><rect x="304" y="196" width="6" height="6" fill="#4851f3"/><rect x="310" y="196" width="5" height="6" fill="#4564fd"/><rect x="315" y="196" width="6" height="6" fill="#4367fd"/><rect x="321" y="196" width="6" height="6" fill="#426afe"/><rect x="327" y="196" width="6" height="6" fill="#2a93ee"/><rect x="333" y="196" width="5" height="6" fill="#2895ec"/><rect x="338" y="196" width="6" height="6" fill="#2798ea"/><rect x="344" y="196" width="6" height="6" fill="#2798ea"/><rect x="350" y="196" width="6" height="6" fill="#2797eb"/><rect x="356" y="196" width="6" height="6" fill="#2797eb"/><rect x="362" y="196" width="5" height="6" fill="#2699e9"/><rect x="367" y="196" width="6" height="6" fill="#1caadf"/><rect x="373" y="196" width="6" height="6" fill="#03b7cc"/>
<rect x="286" y="202" width="6" height="6" fill="#484cf0"/><rect x="292" y="202" width="6" height="6" fill="#402bb8"/><rect x="298" y="202" width="6" height="6" fill="#463adb"/><rect x="304" y="202" width="6" height="6" fill="#484ff2"/><rect x="310" y="202" width="5" height="6" fill="#4561fc"/><rect x="315" y="202" width="6" height="6" fill="#4564fd"/><rect x="321" y="202" width="6" height="6" fill="#4466fd"/><rect x="327" y="202" width="6" height="6" fill="#317dfc"/><rect x="333" y="202" width="5" height="6" fill="#2e83f9"/><rect x="338" y="202" width="6" height="6" fill="#2a93ee"/><rect x="344" y="202" width="6" height="6" fill="#2995ec"/><rect x="350" y="202" width="6" height="6" fill="#2896eb"/><rect x="356" y="202" width="6" height="6" fill="#2797eb"/><rect x="362" y="202" width="5" height="6" fill="#269ae8"/><rect x="367" y="202" width="6" height="6" fill="#1babde"/><rect x="373" y="202" width="6" height="6" fill="#03b7cc"/>
<rect x="286" y="208" width="6" height="5" fill="#4464fd"/><rect x="292" y="208" width="6" height="5" fill="#4538d7"/><rect x="298" y="208" width="6" height="5" fill="#4539d8"/><rect x="304" y="208" width="6" height="5" fill="#484cef"/><rect x="310" y="208" width="5" height="5" fill="#484ff2"/><rect x="315" y="208" width="6" height="5" fill="#4851f3"/><rect x="321" y="208" width="6" height="5" fill="#4852f4"/><rect x="327" y="208" width="6" height="5" fill="#4465fd"/><rect x="333" y="208" width="5" height="5" fill="#426afe"/><rect x="338" y="208" width="6" height="5" fill="#307ffb"/><rect x="344" y="208" width="6" height="5" fill="#2e84f8"/><rect x="350" y="208" width="6" height="5" fill="#2a93ed"/><rect x="356" y="208" width="6" height="5" fill="#2798ea"/><rect x="362" y="208" width="5" height="5" fill="#1ea6e1"/><rect x="367" y="208" width="6" height="5" fill="#1aacdd"/><rect x="373" y="208" width="6" height="5" fill="#03b7cc"/>
<rect x="286" y="213" width="6" height="6" fill="#327cfc"/><rect x="292" y="213" width="6" height="6" fill="#484ff2"/><rect x="298" y="213" width="6" height="6" fill="#412ebe"/><rect x="304" y="213" width="6" height="6" fill="#463bdd"/><rect x="310" y="213" width="5" height="6" fill="#4848ec"/><rect x="315" y="213" width="6" height="6" fill="#463ee1"/><rect x="321" y="213" width="6" height="6" fill="#484cf0"/><rect x="327" y="213" width="6" height="6" fill="#4852f4"/><rect x="333" y="213" width="5" height="6" fill="#4564fd"/><rect x="338" y="213" width="6" height="6" fill="#416bfe"/><rect x="344" y="213" width="6" height="6" fill="#3080fb"/><rect x="350" y="213" width="6" height="6" fill="#2e86f7"/><rect x="356" y="213" width="6" height="6" fill="#269ae9"/><rect x="362" y="213" width="5" height="6" fill="#1ca9e0"/><rect x="367" y="213" width="6" height="6" fill="#18addb"/><rect x="373" y="213" width="6" height="6" fill="#02b7cb"/>
<rect x="286" y="219" width="6" height="6" fill="#2f80fa"/><rect x="292" y="219" width="6" height="6" fill="#4368fe"/><rect x="298" y="219" width="6" height="6" fill="#484ef1"/><rect x="304" y="219" width="6" height="6" fill="#4639d9"/><rect x="310" y="219" width="5" height="6" fill="#4539d9"/><rect x="315" y="219" width="6" height="6" fill="#4639d9"/><rect x="321" y="219" width="6" height="6" fill="#463cde"/><rect x="327" y="219" width="6" height="6" fill="#484ef1"/><rect x="333" y="219" width="5" height="6" fill="#4755f6"/><rect x="338" y="219" width="6" height="6" fill="#426afe"/><rect x="344" y="219" width="6" height="6" fill="#2f81fa"/><rect x="350" y="219" width="6" height="6" fill="#2797eb"/><rect x="356" y="219" width="6" height="6" fill="#1da8e0"/><rect x="362" y="219" width="5" height="6" fill="#19acdc"/><rect x="367" y="219" width="6" height="6" fill="#02b7cb"/><rect x="373" y="219" width="6" height="6" fill="#01b8c8"/>
<rect x="286" y="225" width="6" height="6" fill="#2c90f0"/><rect x="292" y="225" width="6" height="6" fill="#317dfb"/><rect x="298" y="225" width="6" height="6" fill="#4466fd"/><rect x="304" y="225" width="6" height="6" fill="#4639d9"/><rect x="310" y="225" width="5" height="6" fill="#4538d7"/><rect x="315" y="225" width="6" height="6" fill="#4538d7"/><rect x="321" y="225" width="6" height="6" fill="#463adb"/><rect x="327" y="225" width="6" height="6" fill="#484ef1"/><rect x="333" y="225" width="5" height="6" fill="#4563fc"/><rect x="338" y="225" width="6" height="6" fill="#317dfb"/><rect x="344" y="225" width="6" height="6" fill="#2994ed"/><rect x="350" y="225" width="6" height="6" fill="#1ea7e1"/><rect x="356" y="225" width="6" height="6" fill="#1babde"/><rect x="362" y="225" width="5" height="6" fill="#05b6cd"/><rect x="367" y="225" width="6" height="6" fill="#01b8c8"/><rect x="373" y="225" width="6" height="6" fill="#01b9c7"/>
</g></g>
<rect x="381.80" y="129.30" width="5.70" height="110.20" fill="url(#pg)"/>
<text class="t" transform="translate(333.50,134.85) scale(0.97,1)" word-spacing="-1.0">Patch 7</text>
<text class="l" x="390.9" y="142.0">0.26</text>
<text class="l" x="390.9" y="158.6">0.25</text>
<text class="l" x="390.9" y="175.2">0.24</text>
<text class="l" x="390.9" y="191.8">0.23</text>
<text class="l" x="390.9" y="208.4">0.22</text>
<text class="l" x="390.9" y="225.0">0.21</text>
<text class="l" x="390.9" y="241.5">0.20</text>
<g filter="url(#bl)"><g clip-path="url(#cp8)" shape-rendering="crispEdges">
<rect x="425" y="138" width="7" height="6" fill="#4757f8"/><rect x="432" y="138" width="5" height="6" fill="#4466fd"/><rect x="437" y="138" width="6" height="6" fill="#4269fe"/><rect x="443" y="138" width="6" height="6" fill="#426afe"/><rect x="449" y="138" width="6" height="6" fill="#426afe"/><rect x="455" y="138" width="6" height="6" fill="#416bfe"/><rect x="461" y="138" width="6" height="6" fill="#426afe"/><rect x="467" y="138" width="5" height="6" fill="#4368fe"/><rect x="472" y="138" width="6" height="6" fill="#4465fd"/><rect x="478" y="138" width="6" height="6" fill="#4854f5"/><rect x="484" y="138" width="6" height="6" fill="#484ff2"/><rect x="490" y="138" width="6" height="6" fill="#484bef"/><rect x="496" y="138" width="6" height="6" fill="#4740e3"/><rect x="502" y="138" width="5" height="6" fill="#484ff2"/><rect x="507" y="138" width="6" height="6" fill="#4465fd"/><rect x="513" y="138" width="6" height="6" fill="#4368fe"/>
<rect x="425" y="144" width="7" height="6" fill="#4465fd"/><rect x="432" y="144" width="5" height="6" fill="#4368fe"/><rect x="437" y="144" width="6" height="6" fill="#337bfd"/><rect x="443" y="144" width="6" height="6" fill="#2a93ee"/><rect x="449" y="144" width="6" height="6" fill="#3080fa"/><rect x="455" y="144" width="6" height="6" fill="#317efb"/><rect x="461" y="144" width="6" height="6" fill="#327cfc"/><rect x="467" y="144" width="5" height="6" fill="#416afe"/><rect x="472" y="144" width="6" height="6" fill="#4367fd"/><rect x="478" y="144" width="6" height="6" fill="#4563fc"/><rect x="484" y="144" width="6" height="6" fill="#4850f2"/><rect x="490" y="144" width="6" height="6" fill="#4743e7"/><rect x="496" y="144" width="6" height="6" fill="#484cf0"/><rect x="502" y="144" width="5" height="6" fill="#4850f2"/><rect x="507" y="144" width="6" height="6" fill="#3a74fe"/><rect x="513" y="144" width="6" height="6" fill="#4368fe"/>
<rect x="425" y="150" width="7" height="6" fill="#4367fd"/><rect x="432" y="150" width="5" height="6" fill="#426afe"/><rect x="437" y="150" width="6" height="6" fill="#317dfc"/><rect x="443" y="150" width="6" height="6" fill="#1fa6e2"/><rect x="449" y="150" width="6" height="6" fill="#2a93ee"/><rect x="455" y="150" width="6" height="6" fill="#2f82f9"/><rect x="461" y="150" width="6" height="6" fill="#2f82fa"/><rect x="467" y="150" width="5" height="6" fill="#2b91ef"/><rect x="472" y="150" width="6" height="6" fill="#317dfc"/><rect x="478" y="150" width="6" height="6" fill="#4367fd"/><rect x="484" y="150" width="6" height="6" fill="#4852f4"/><rect x="490" y="150" width="6" height="6" fill="#484ef1"/><rect x="496" y="150" width="6" height="6" fill="#484ef1"/><rect x="502" y="150" width="5" height="6" fill="#4851f3"/><rect x="507" y="150" width="6" height="6" fill="#4465fd"/><rect x="513" y="150" width="6" height="6" fill="#4368fe"/>
<rect x="425" y="156" width="7" height="6" fill="#4367fd"/><rect x="432" y="156" width="5" height="6" fill="#4269fe"/><rect x="437" y="156" width="6" height="6" fill="#337bfd"/><rect x="443" y="156" width="6" height="6" fill="#04b6cd"/><rect x="449" y="156" width="6" height="6" fill="#2a92ee"/><rect x="455" y="156" width="6" height="6" fill="#2f82f9"/><rect x="461" y="156" width="6" height="6" fill="#2f82f9"/><rect x="467" y="156" width="5" height="6" fill="#2a93ed"/><rect x="472" y="156" width="6" height="6" fill="#1fa6e2"/><rect x="478" y="156" width="6" height="6" fill="#317efb"/><rect x="484" y="156" width="6" height="6" fill="#4466fd"/><rect x="490" y="156" width="6" height="6" fill="#4852f4"/><rect x="496" y="156" width="6" height="6" fill="#4850f2"/><rect x="502" y="156" width="5" height="6" fill="#4851f3"/><rect x="507" y="156" width="6" height="6" fill="#4562fc"/><rect x="513" y="156" width="6" height="6" fill="#4466fd"/>
<rect x="425" y="162" width="7" height="6" fill="#4368fe"/><rect x="432" y="162" width="5" height="6" fill="#4368fd"/><rect x="437" y="162" width="6" height="6" fill="#4466fd"/><rect x="443" y="162" width="6" height="6" fill="#2a92ee"/><rect x="449" y="162" width="6" height="6" fill="#2e84f8"/><rect x="455" y="162" width="6" height="6" fill="#3080fa"/><rect x="461" y="162" width="6" height="6" fill="#3080fb"/><rect x="467" y="162" width="5" height="6" fill="#01b9c6"/><rect x="472" y="162" width="6" height="6" fill="#21c1b0"/><rect x="478" y="162" width="6" height="6" fill="#2c8ef1"/><rect x="484" y="162" width="6" height="6" fill="#317dfb"/><rect x="490" y="162" width="6" height="6" fill="#4564fd"/><rect x="496" y="162" width="6" height="6" fill="#4851f3"/><rect x="502" y="162" width="5" height="6" fill="#4850f2"/><rect x="507" y="162" width="6" height="6" fill="#4853f5"/><rect x="513" y="162" width="6" height="6" fill="#4564fd"/>
<rect x="425" y="168" width="7" height="6" fill="#3776fe"/><rect x="432" y="168" width="5" height="6" fill="#4466fd"/><rect x="437" y="168" width="6" height="6" fill="#4853f5"/><rect x="443" y="168" width="6" height="6" fill="#484ef1"/><rect x="449" y="168" width="6" height="6" fill="#484ef1"/><rect x="455" y="168" width="6" height="6" fill="#4851f3"/><rect x="461" y="168" width="6" height="6" fill="#4367fd"/><rect x="467" y="168" width="5" height="6" fill="#337bfd"/><rect x="472" y="168" width="6" height="6" fill="#317dfc"/><rect x="478" y="168" width="6" height="6" fill="#307ffb"/><rect x="484" y="168" width="6" height="6" fill="#317dfc"/><rect x="490" y="168" width="6" height="6" fill="#4465fd"/><rect x="496" y="168" width="6" height="6" fill="#484ff2"/><rect x="502" y="168" width="5" height="6" fill="#484ef1"/><rect x="507" y="168" width="6" height="6" fill="#4852f4"/><rect x="513" y="168" width="6" height="6" fill="#4562fc"/>
<rect x="425" y="174" width="7" height="5" fill="#19addc"/><rect x="432" y="174" width="5" height="5" fill="#4465fd"/><rect x="437" y="174" width="6" height="5" fill="#4850f2"/><rect x="443" y="174" width="6" height="5" fill="#4745e9"/><rect x="449" y="174" width="6" height="5" fill="#484ef1"/><rect x="455" y="174" width="6" height="5" fill="#4850f2"/><rect x="461" y="174" width="6" height="5" fill="#4853f5"/><rect x="467" y="174" width="5" height="5" fill="#4367fd"/><rect x="472" y="174" width="6" height="5" fill="#426afe"/><rect x="478" y="174" width="6" height="5" fill="#4368fd"/><rect x="484" y="174" width="6" height="5" fill="#4851f3"/><rect x="490" y="174" width="6" height="5" fill="#463bdd"/><rect x="496" y="174" width="6" height="5" fill="#463cdf"/><rect x="502" y="174" width="5" height="5" fill="#484df0"/><rect x="507" y="174" width="6" height="5" fill="#4851f3"/><rect x="513" y="174" width="6" height="5" fill="#465ffb"/>
<rect x="425" y="179" width="7" height="6" fill="#01b9c8"/><rect x="432" y="179" width="5" height="6" fill="#3080fb"/><rect x="437" y="179" width="6" height="6" fill="#484ff2"/><rect x="443" y="179" width="6" height="6" fill="#484ef1"/><rect x="449" y="179" width="6" height="6" fill="#484ef1"/><rect x="455" y="179" width="6" height="6" fill="#4850f2"/><rect x="461" y="179" width="6" height="6" fill="#4853f5"/><rect x="467" y="179" width="5" height="6" fill="#4465fd"/><rect x="472" y="179" width="6" height="6" fill="#4367fd"/><rect x="478" y="179" width="6" height="6" fill="#4465fd"/><rect x="484" y="179" width="6" height="6" fill="#4852f4"/><rect x="490" y="179" width="6" height="6" fill="#463cdf"/><rect x="496" y="179" width="6" height="6" fill="#463de0"/><rect x="502" y="179" width="5" height="6" fill="#484ef1"/><rect x="507" y="179" width="6" height="6" fill="#4852f4"/><rect x="513" y="179" width="6" height="6" fill="#4854f5"/>
<rect x="425" y="185" width="7" height="6" fill="#26c2ad"/><rect x="432" y="185" width="5" height="6" fill="#2a93ed"/><rect x="437" y="185" width="6" height="6" fill="#4850f2"/><rect x="443" y="185" width="6" height="6" fill="#484ef1"/><rect x="449" y="185" width="6" height="6" fill="#484ff2"/><rect x="455" y="185" width="6" height="6" fill="#4852f4"/><rect x="461" y="185" width="6" height="6" fill="#4564fd"/><rect x="467" y="185" width="5" height="6" fill="#4368fe"/><rect x="472" y="185" width="6" height="6" fill="#426afe"/><rect x="478" y="185" width="6" height="6" fill="#4269fe"/><rect x="484" y="185" width="6" height="6" fill="#4367fd"/><rect x="490" y="185" width="6" height="6" fill="#484ef1"/><rect x="496" y="185" width="6" height="6" fill="#484cf0"/><rect x="502" y="185" width="5" height="6" fill="#4850f3"/><rect x="507" y="185" width="6" height="6" fill="#4465fd"/><rect x="513" y="185" width="6" height="6" fill="#4367fd"/>
<rect x="425" y="191" width="7" height="6" fill="#42ca8c"/><rect x="432" y="191" width="5" height="6" fill="#02bac5"/><rect x="437" y="191" width="6" height="6" fill="#4562fc"/><rect x="443" y="191" width="6" height="6" fill="#463ee1"/><rect x="449" y="191" width="6" height="6" fill="#484df0"/><rect x="455" y="191" width="6" height="6" fill="#4661fc"/><rect x="461" y="191" width="6" height="6" fill="#4366fd"/><rect x="467" y="191" width="5" height="6" fill="#3677fe"/><rect x="472" y="191" width="6" height="6" fill="#327cfc"/><rect x="478" y="191" width="6" height="6" fill="#317dfc"/><rect x="484" y="191" width="6" height="6" fill="#317dfc"/><rect x="490" y="191" width="6" height="6" fill="#307ffb"/><rect x="496" y="191" width="6" height="6" fill="#3080fb"/><rect x="502" y="191" width="5" height="6" fill="#307ffb"/><rect x="507" y="191" width="6" height="6" fill="#307efb"/><rect x="513" y="191" width="6" height="6" fill="#307ffb"/>
<rect x="425" y="197" width="7" height="6" fill="#41ca8c"/><rect x="432" y="197" width="5" height="6" fill="#01bac5"/><rect x="437" y="197" width="6" height="6" fill="#4367fd"/><rect x="443" y="197" width="6" height="6" fill="#463adc"/><rect x="449" y="197" width="6" height="6" fill="#463cdf"/><rect x="455" y="197" width="6" height="6" fill="#4852f4"/><rect x="461" y="197" width="6" height="6" fill="#4465fd"/><rect x="467" y="197" width="5" height="6" fill="#416afe"/><rect x="472" y="197" width="6" height="6" fill="#317dfc"/><rect x="478" y="197" width="6" height="6" fill="#2f81fa"/><rect x="484" y="197" width="6" height="6" fill="#29c3aa"/><rect x="490" y="197" width="6" height="6" fill="#bfc32d"/><rect x="496" y="197" width="6" height="6" fill="#49cb85"/><rect x="502" y="197" width="5" height="6" fill="#48cb86"/><rect x="507" y="197" width="6" height="6" fill="#1fa6e1"/><rect x="513" y="197" width="6" height="6" fill="#2797eb"/>
<rect x="425" y="203" width="7" height="6" fill="#1fc0b2"/><rect x="432" y="203" width="5" height="6" fill="#02bac5"/><rect x="437" y="203" width="6" height="6" fill="#317dfc"/><rect x="443" y="203" width="6" height="6" fill="#484aee"/><rect x="449" y="203" width="6" height="6" fill="#463de0"/><rect x="455" y="203" width="6" height="6" fill="#484ff2"/><rect x="461" y="203" width="6" height="6" fill="#4564fd"/><rect x="467" y="203" width="5" height="6" fill="#4367fd"/><rect x="472" y="203" width="6" height="6" fill="#426afe"/><rect x="478" y="203" width="6" height="6" fill="#2994ed"/><rect x="484" y="203" width="6" height="6" fill="#bbc42f"/><rect x="490" y="203" width="6" height="6" fill="#f6df29"/><rect x="496" y="203" width="6" height="6" fill="#e5bb2c"/><rect x="502" y="203" width="5" height="6" fill="#c1c32c"/><rect x="507" y="203" width="6" height="6" fill="#1ea7e1"/><rect x="513" y="203" width="6" height="6" fill="#269ae8"/>
<rect x="425" y="209" width="7" height="5" fill="#02bac5"/><rect x="432" y="209" width="5" height="5" fill="#01b9c6"/><rect x="437" y="209" width="6" height="5" fill="#317dfc"/><rect x="443" y="209" width="6" height="5" fill="#484df1"/><rect x="449" y="209" width="6" height="5" fill="#4741e5"/><rect x="455" y="209" width="6" height="5" fill="#484ff2"/><rect x="461" y="209" width="6" height="5" fill="#4562fc"/><rect x="467" y="209" width="5" height="5" fill="#4466fd"/><rect x="472" y="209" width="6" height="5" fill="#4367fd"/><rect x="478" y="209" width="6" height="5" fill="#1da8e0"/><rect x="484" y="209" width="6" height="5" fill="#c2c32c"/><rect x="490" y="209" width="6" height="5" fill="#f6e028"/><rect x="496" y="209" width="6" height="5" fill="#fdcb33"/><rect x="502" y="209" width="5" height="5" fill="#b9c430"/><rect x="507" y="209" width="6" height="5" fill="#1ea7e1"/><rect x="513" y="209" width="6" height="5" fill="#2698ea"/>
<rect x="425" y="214" width="7" height="6" fill="#317dfc"/><rect x="432" y="214" width="5" height="6" fill="#327cfc"/><rect x="437" y="214" width="6" height="6" fill="#4562fc"/><rect x="443" y="214" width="6" height="6" fill="#4850f2"/><rect x="449" y="214" width="6" height="6" fill="#484ef1"/><rect x="455" y="214" width="6" height="6" fill="#484ff2"/><rect x="461" y="214" width="6" height="6" fill="#4853f5"/><rect x="467" y="214" width="5" height="6" fill="#4465fd"/><rect x="472" y="214" width="6" height="6" fill="#4367fd"/><rect x="478" y="214" width="6" height="6" fill="#1caadf"/><rect x="484" y="214" width="6" height="6" fill="#dfbc2a"/><rect x="490" y="214" width="6" height="6" fill="#f6e128"/><rect x="496" y="214" width="6" height="6" fill="#f6f21e"/><rect x="502" y="214" width="5" height="6" fill="#8ccb50"/><rect x="507" y="214" width="6" height="6" fill="#307ffb"/><rect x="513" y="214" width="6" height="6" fill="#3f6efe"/>
<rect x="425" y="220" width="7" height="6" fill="#4564fd"/><rect x="432" y="220" width="5" height="6" fill="#4851f3"/><rect x="437" y="220" width="6" height="6" fill="#484ef1"/><rect x="443" y="220" width="6" height="6" fill="#484ef1"/><rect x="449" y="220" width="6" height="6" fill="#484ef1"/><rect x="455" y="220" width="6" height="6" fill="#484ff2"/><rect x="461" y="220" width="6" height="6" fill="#4851f3"/><rect x="467" y="220" width="5" height="6" fill="#4562fc"/><rect x="472" y="220" width="6" height="6" fill="#4466fd"/><rect x="478" y="220" width="6" height="6" fill="#19acdd"/><rect x="484" y="220" width="6" height="6" fill="#c5c22a"/><rect x="490" y="220" width="6" height="6" fill="#f6e028"/><rect x="496" y="220" width="6" height="6" fill="#fdcb33"/><rect x="502" y="220" width="5" height="6" fill="#01b8c9"/><rect x="507" y="220" width="6" height="6" fill="#3080fa"/><rect x="513" y="220" width="6" height="6" fill="#3e26a8"/>
<rect x="425" y="226" width="7" height="6" fill="#4851f4"/><rect x="432" y="226" width="5" height="6" fill="#484ef1"/><rect x="437" y="226" width="6" height="6" fill="#473ee2"/><rect x="443" y="226" width="6" height="6" fill="#473ee2"/><rect x="449" y="226" width="6" height="6" fill="#484df1"/><rect x="455" y="226" width="6" height="6" fill="#484ff2"/><rect x="461" y="226" width="6" height="6" fill="#4850f2"/><rect x="467" y="226" width="5" height="6" fill="#4854f5"/><rect x="472" y="226" width="6" height="6" fill="#4464fd"/><rect x="478" y="226" width="6" height="6" fill="#03b7cc"/><rect x="484" y="226" width="6" height="6" fill="#c2c32c"/><rect x="490" y="226" width="6" height="6" fill="#e5bb2d"/><rect x="496" y="226" width="6" height="6" fill="#24c1ae"/><rect x="502" y="226" width="5" height="6" fill="#1baadf"/><rect x="507" y="226" width="6" height="6" fill="#2796eb"/><rect x="513" y="226" width="6" height="6" fill="#426afe"/>
</g></g>
<rect x="522.10" y="129.30" width="5.90" height="111.90" fill="url(#pg)"/>
<text class="t" transform="translate(472.20,134.85) scale(0.97,1)" word-spacing="-1.0">Patch 8</text>
<text class="l" x="531.1" y="150.8">0.24</text>
<text class="l" x="531.1" y="176.8">0.22</text>
<text class="l" x="531.1" y="202.8">0.20</text>
<text class="l" x="531.1" y="228.8">0.18</text>
</svg>
</body></html>
